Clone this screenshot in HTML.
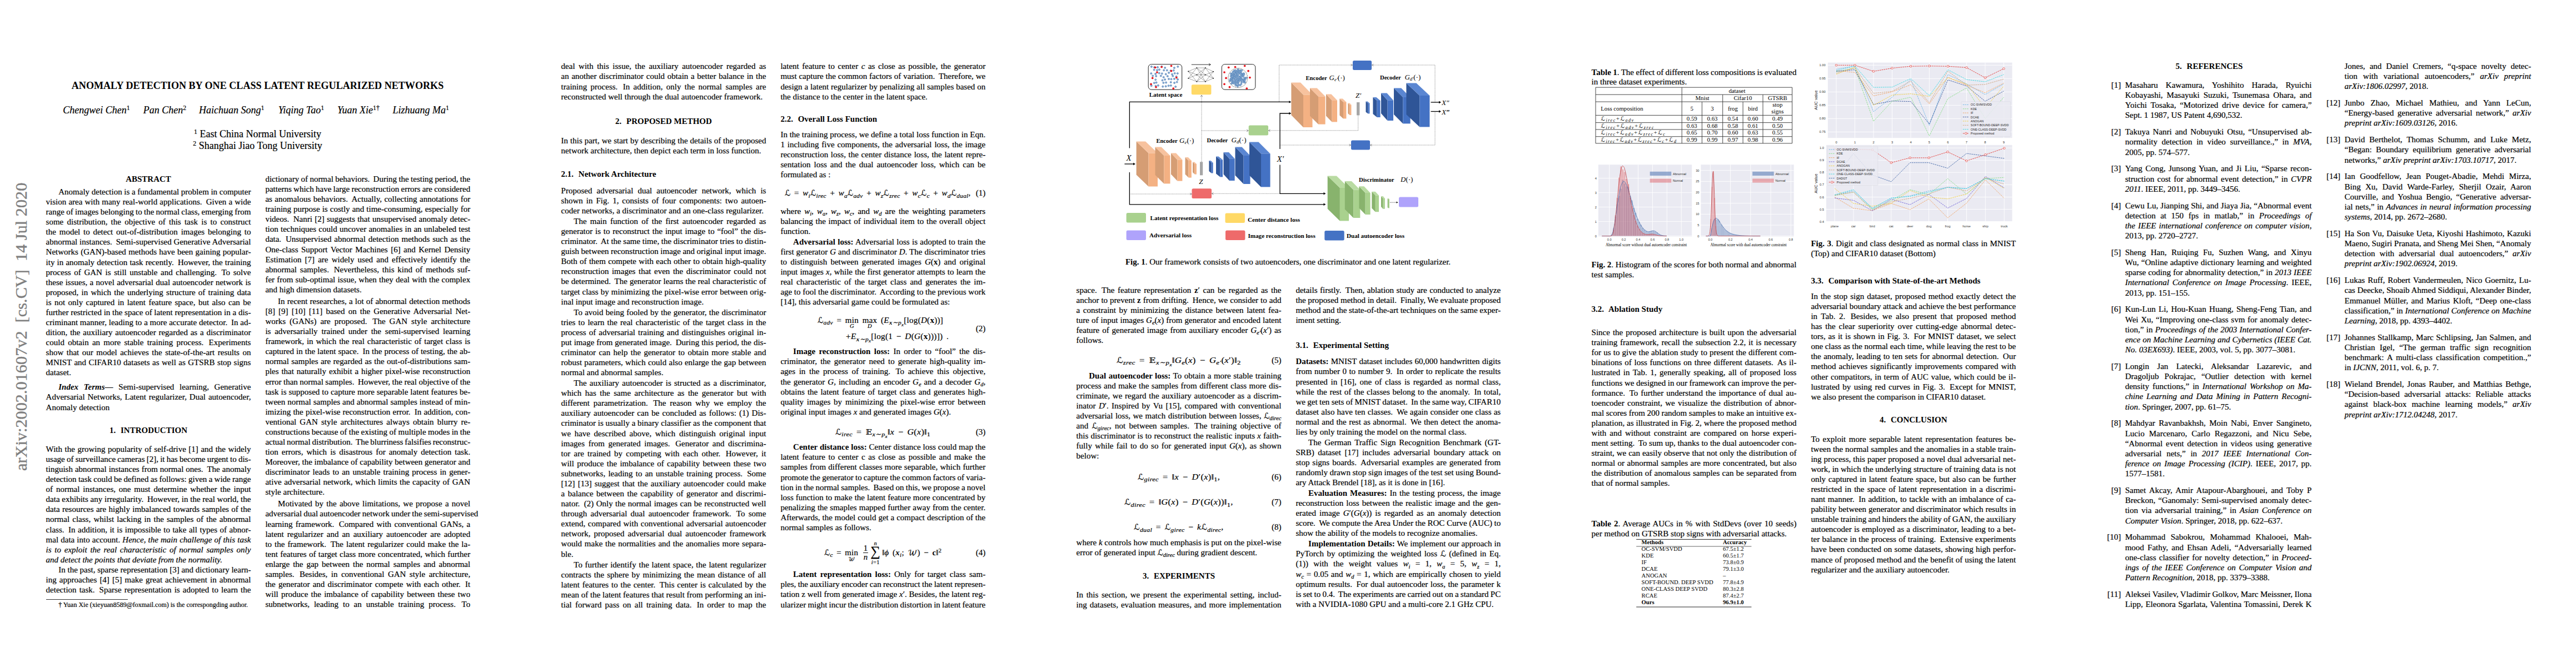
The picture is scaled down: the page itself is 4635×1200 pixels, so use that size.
<!DOCTYPE html>
<html><head><meta charset="utf-8"><title>Anomaly Detection by One Class Latent Regularized Networks</title><style>
*{margin:0;padding:0}
html,body{width:4635px;height:1200px;overflow:hidden;background:#fff}
body{position:relative;font-family:'Liberation Serif','Times New Roman',serif;color:#000;-webkit-text-stroke:0.2px #000}
.l{position:absolute;white-space:nowrap;font-size:15px;line-height:18.18px;height:18.18px}
.j{text-align:justify;text-align-last:justify;word-spacing:-1.5px}
.c{text-align:center}
.r{text-align:right}
.h{font-weight:bold}
b,.h,.tt{-webkit-text-stroke:0}
.cal{font-family:'DejaVu Sans',sans-serif;font-style:normal;font-size:95%}
.calw,.bb{font-family:'DejaVu Math TeX Gyre','DejaVu Sans',serif;font-style:normal;font-size:92%}
sub,sup{font-size:70%;line-height:0;position:relative;vertical-align:baseline}
sub{top:0.3em;font-style:italic}
sup{top:-0.45em}
sub.n,sub b{font-style:normal}
.eq i{font-style:italic}
.eq>span{word-spacing:2.5px;letter-spacing:0.3px}
.eq sub{font-size:76%}
.mm{display:inline-block;position:relative}
.mm .ul{position:absolute;left:0;right:0;text-align:center;top:15.5px;font-size:10.5px;font-style:italic;line-height:1}
.frac{display:inline-block;vertical-align:middle;text-align:center;line-height:1;margin:0 2px;position:relative;top:-1px}
.frac>span{display:block;font-size:100%}
.frac>span:first-child{border-bottom:1px solid #111;padding:0 1px}
.sum{display:inline-block;position:relative;font-size:25px;line-height:18px;vertical-align:-1px;margin:0 3px 0 2px}
.sum .ut,.sum .ul{position:absolute;left:-6px;right:-6px;text-align:center;font-size:10.5px;line-height:1;white-space:nowrap}
.sum .ut{top:-10.5px}
.sum .ul{top:23.5px}
.fn{position:absolute;white-space:nowrap;font-size:12px;line-height:14px}
.abs{position:absolute;white-space:nowrap}
</style></head><body>
<div class="abs" style="left:0;width:927px;top:145.45px;text-align:center;-webkit-text-stroke:0;font:bold 18.1px/18.18px 'Liberation Serif',serif">ANOMALY DETECTION BY ONE CLASS LATENT REGULARIZED NETWORKS</div>
<div class="abs" style="left:113.3px;top:188.98px;font:italic 18px/18.18px 'Liberation Serif',serif">Chengwei Chen<sup style="font-style:normal;font-size:66%;top:-0.5em">1</sup></div>
<div class="abs" style="left:257.7px;top:188.98px;font:italic 18px/18.18px 'Liberation Serif',serif">Pan Chen<sup style="font-style:normal;font-size:66%;top:-0.5em">2</sup></div>
<div class="abs" style="left:358.0px;top:188.98px;font:italic 18px/18.18px 'Liberation Serif',serif">Haichuan Song<sup style="font-style:normal;font-size:66%;top:-0.5em">1</sup></div>
<div class="abs" style="left:500.7px;top:188.98px;font:italic 18px/18.18px 'Liberation Serif',serif">Yiqing Tao<sup style="font-style:normal;font-size:66%;top:-0.5em">1</sup></div>
<div class="abs" style="left:607.1px;top:188.98px;font:italic 18px/18.18px 'Liberation Serif',serif">Yuan Xie<sup style="font-style:normal;font-size:66%;top:-0.5em">1&#8224;</sup></div>
<div class="abs" style="left:706.5px;top:188.98px;font:italic 18px/18.18px 'Liberation Serif',serif">Lizhuang Ma<sup style="font-style:normal;font-size:66%;top:-0.5em">1</sup></div>
<div class="abs" style="left:0;width:927px;top:232.19px;text-align:center;font:18px/18.18px 'Liberation Serif',serif"><sup style="font-size:66%;top:-0.5em">1</sup> East China Normal University</div>
<div class="abs" style="left:0;width:927px;top:252.69px;text-align:center;font:18px/18.18px 'Liberation Serif',serif"><sup style="font-size:66%;top:-0.5em">2</sup> Shanghai Jiao Tong University</div>
<div class="abs" style="left:47.6px;top:847px;transform-origin:0 0;transform:rotate(-90deg);font:30.3px/1 'Liberation Serif',serif;color:#7f7f7f;-webkit-text-stroke:0.4px #7f7f7f;margin-top:0"><span style="position:relative;top:-24.6px">arXiv:2002.01607v2&nbsp; [cs.CV]&nbsp; 14 Jul 2020</span></div>
<div class="abs" style="left:82.6px;top:1078px;width:147.5px;height:0;border-top:0.7px solid #333"></div>
<div class="fn" style="left:105.2px;top:1080.95px">&#8224; Yuan Xie (xieyuan8589@foxmail.com) is the correspongding author.</div>
<div class="l h c" style="left:82.6px;top:313.00px;width:368.8px;">ABSTRACT</div>
<div class="l j" style="left:82.6px;top:336.00px;width:368.8px;text-indent:22.7px;">Anomaly detection is a fundamental problem in computer</div>
<div class="l j" style="left:82.6px;top:354.08px;width:368.8px;">vision area with many real-world applications.&#8201; Given a wide</div>
<div class="l j" style="left:82.6px;top:372.16px;width:368.8px;">range of images belonging to the normal class, emerging from</div>
<div class="l j" style="left:82.6px;top:390.24px;width:368.8px;">some distribution, the objective of this task is to construct</div>
<div class="l j" style="left:82.6px;top:408.32px;width:368.8px;">the model to detect out-of-distribution images belonging to</div>
<div class="l j" style="left:82.6px;top:426.40px;width:368.8px;">abnormal instances.&#8201; Semi-supervised Generative Adversarial</div>
<div class="l j" style="left:82.6px;top:444.48px;width:368.8px;">Networks (GAN)-based methods have been gaining popular-</div>
<div class="l j" style="left:82.6px;top:462.56px;width:368.8px;">ity in anomaly detection task recently.&#8201; However, the training</div>
<div class="l j" style="left:82.6px;top:480.64px;width:368.8px;">process of GAN is still unstable and challenging.&#8201; To solve</div>
<div class="l j" style="left:82.6px;top:498.72px;width:368.8px;">these issues, a novel adversarial dual autoencoder network is</div>
<div class="l j" style="left:82.6px;top:516.80px;width:368.8px;">proposed, in which the underlying structure of training data</div>
<div class="l j" style="left:82.6px;top:534.88px;width:368.8px;">is not only captured in latent feature space, but also can be</div>
<div class="l j" style="left:82.6px;top:552.96px;width:368.8px;">further restricted in the space of latent representation in a dis-</div>
<div class="l j" style="left:82.6px;top:571.04px;width:368.8px;">criminant manner, leading to a more accurate detector.&#8201; In ad-</div>
<div class="l j" style="left:82.6px;top:589.12px;width:368.8px;">dition, the auxiliary autoencoder regarded as a discriminator</div>
<div class="l j" style="left:82.6px;top:607.20px;width:368.8px;">could obtain an more stable training process.&#8201; Experiments</div>
<div class="l j" style="left:82.6px;top:625.28px;width:368.8px;">show that our model achieves the state-of-the-art results on</div>
<div class="l j" style="left:82.6px;top:643.36px;width:368.8px;">MNIST and CIFAR10 datasets as well as GTSRB stop signs</div>
<div class="l" style="left:82.6px;top:661.44px;width:368.8px;">dataset.</div>
<div class="l j" style="left:82.6px;top:687.40px;width:368.8px;text-indent:22.7px;"><b><i>Index Terms</i>&#8212;</b> Semi-supervised learning, Generative</div>
<div class="l j" style="left:82.6px;top:705.48px;width:368.8px;">Adversarial Networks, Latent regularizer, Dual autoencoder,</div>
<div class="l" style="left:82.6px;top:723.56px;width:368.8px;">Anomaly detection</div>
<div class="l h c" style="left:82.6px;top:765.10px;width:368.8px;">1.&nbsp;&#8202; INTRODUCTION</div>
<div class="l j" style="left:82.6px;top:798.90px;width:368.8px;">With the growing popularity of self-drive [1] and the widely</div>
<div class="l j" style="left:82.6px;top:816.98px;width:368.8px;">usage of surveillance cameras [2], it has become urgent to dis-</div>
<div class="l j" style="left:82.6px;top:835.06px;width:368.8px;">tinguish abnormal instances from normal ones.&#8201; The anomaly</div>
<div class="l j" style="left:82.6px;top:853.14px;width:368.8px;">detection task could be defined as follows: given a wide range</div>
<div class="l j" style="left:82.6px;top:871.22px;width:368.8px;">of normal instances, one must determine whether the input</div>
<div class="l j" style="left:82.6px;top:889.30px;width:368.8px;">data exhibits any irregularity.&#8201; However, in the real world, the</div>
<div class="l j" style="left:82.6px;top:907.38px;width:368.8px;">data resources are highly imbalanced towards samples of the</div>
<div class="l j" style="left:82.6px;top:925.46px;width:368.8px;">normal class, whilst lacking in the samples of the abnormal</div>
<div class="l j" style="left:82.6px;top:943.54px;width:368.8px;">class.&#8201; In addition, it is impossible to take all types of abnor-</div>
<div class="l j" style="left:82.6px;top:961.62px;width:368.8px;">mal data into account. <i>Hence, the main challenge of this task</i></div>
<div class="l j" style="left:82.6px;top:979.70px;width:368.8px;"><i>is to exploit the real characteristic of normal samples only</i></div>
<div class="l" style="left:82.6px;top:997.78px;width:368.8px;"><i>and detect the points that deviate from the normality.</i></div>
<div class="l j" style="left:82.6px;top:1015.86px;width:368.8px;text-indent:22.7px;">In the past, sparse representation [3] and dictionary learn-</div>
<div class="l j" style="left:82.6px;top:1033.94px;width:368.8px;">ing approaches [4] [5] make great achievement in abnormal</div>
<div class="l j" style="left:82.6px;top:1052.02px;width:368.8px;">detection task.&#8201; Sparse representation is adopted to learn the</div>
<div class="l j" style="left:477.4px;top:313.00px;width:368.8px;">dictionary of normal behaviors.&#8201; During the testing period, the</div>
<div class="l j" style="left:477.4px;top:331.08px;width:368.8px;">patterns which have large reconstruction errors are considered</div>
<div class="l j" style="left:477.4px;top:349.16px;width:368.8px;">as anomalous behaviors.&#8201; Actually, collecting annotations for</div>
<div class="l j" style="left:477.4px;top:367.24px;width:368.8px;">training purpose is costly and time-consuming, especially for</div>
<div class="l j" style="left:477.4px;top:385.32px;width:368.8px;">videos.&#8201; Nanri [2] suggests that unsupervised anomaly detec-</div>
<div class="l j" style="left:477.4px;top:403.40px;width:368.8px;">tion techniques could uncover anomalies in an unlabeled test</div>
<div class="l j" style="left:477.4px;top:421.48px;width:368.8px;">data.&#8201; Unsupervised abnormal detection methods such as the</div>
<div class="l j" style="left:477.4px;top:439.56px;width:368.8px;">One-class Support Vector Machines [6] and Kernel Density</div>
<div class="l j" style="left:477.4px;top:457.64px;width:368.8px;">Estimation [7] are widely used and effectively identify the</div>
<div class="l j" style="left:477.4px;top:475.72px;width:368.8px;">abnormal samples.&#8201; Nevertheless, this kind of methods suf-</div>
<div class="l j" style="left:477.4px;top:493.80px;width:368.8px;">fer from sub-optimal issue, when they deal with the complex</div>
<div class="l" style="left:477.4px;top:511.88px;width:368.8px;">and high dimension datasets.</div>
<div class="l j" style="left:477.4px;top:532.86px;width:368.8px;text-indent:22.7px;">In recent researches, a lot of abnormal detection methods</div>
<div class="l j" style="left:477.4px;top:550.94px;width:368.8px;">[8] [9] [10] [11] based on the Generative Adversarial Net-</div>
<div class="l j" style="left:477.4px;top:569.02px;width:368.8px;">works (GANs) are proposed.&#8201; The GAN style architecture</div>
<div class="l j" style="left:477.4px;top:587.10px;width:368.8px;">is adversarially trained under the semi-supervised learning</div>
<div class="l j" style="left:477.4px;top:605.18px;width:368.8px;">framework, in which the real characteristic of target class is</div>
<div class="l j" style="left:477.4px;top:623.26px;width:368.8px;">captured in the latent space.&#8201; In the process of testing, the ab-</div>
<div class="l j" style="left:477.4px;top:641.34px;width:368.8px;">normal samples are regarded as the out-of-distributions sam-</div>
<div class="l j" style="left:477.4px;top:659.42px;width:368.8px;">ples that naturally exhibit a higher pixel-wise reconstruction</div>
<div class="l j" style="left:477.4px;top:677.50px;width:368.8px;">error than normal samples.&#8201; However, the real objective of the</div>
<div class="l j" style="left:477.4px;top:695.58px;width:368.8px;">task is supposed to capture more separable latent features be-</div>
<div class="l j" style="left:477.4px;top:713.66px;width:368.8px;">tween normal samples and abnormal samples instead of min-</div>
<div class="l j" style="left:477.4px;top:731.74px;width:368.8px;">imizing the pixel-wise reconstruction error.&#8201; In addition, con-</div>
<div class="l j" style="left:477.4px;top:749.82px;width:368.8px;">ventional GAN style architectures always obtain blurry re-</div>
<div class="l j" style="left:477.4px;top:767.90px;width:368.8px;">constructions because of the existing of multiple modes in the</div>
<div class="l j" style="left:477.4px;top:785.98px;width:368.8px;">actual normal distribution.&#8201; The blurriness falsifies reconstruc-</div>
<div class="l j" style="left:477.4px;top:804.06px;width:368.8px;">tion errors, which is disastrous for anomaly detection task.</div>
<div class="l j" style="left:477.4px;top:822.14px;width:368.8px;">Moreover, the imbalance of capability between generator and</div>
<div class="l j" style="left:477.4px;top:840.22px;width:368.8px;">discriminator leads to an unstable training process in gener-</div>
<div class="l j" style="left:477.4px;top:858.30px;width:368.8px;">ative adversarial network, which limits the capacity of GAN</div>
<div class="l" style="left:477.4px;top:876.38px;width:368.8px;">style architecture.</div>
<div class="l j" style="left:477.4px;top:897.36px;width:368.8px;text-indent:22.7px;">Motivated by the above limitations, we propose a novel</div>
<div class="l" style="left:477.4px;top:915.44px;width:368.8px;word-spacing:-0.6px;">adversarial dual autoencoder network under the semi-supervised</div>
<div class="l j" style="left:477.4px;top:933.52px;width:368.8px;">learning framework.&#8201; Compared with conventional GANs, a</div>
<div class="l j" style="left:477.4px;top:951.60px;width:368.8px;">latent regularizer and an auxiliary autoencoder are adopted</div>
<div class="l j" style="left:477.4px;top:969.68px;width:368.8px;">to the framework.&#8201; The latent regularizer could make the la-</div>
<div class="l j" style="left:477.4px;top:987.76px;width:368.8px;">tent features of target class more concentrated, which further</div>
<div class="l j" style="left:477.4px;top:1005.84px;width:368.8px;">enlarge the gap between the normal samples and abnormal</div>
<div class="l j" style="left:477.4px;top:1023.92px;width:368.8px;">samples.&#8201; Besides, in conventional GAN style architecture,</div>
<div class="l j" style="left:477.4px;top:1042.00px;width:368.8px;">the generator and discriminator compete with each other.&#8201; It</div>
<div class="l j" style="left:477.4px;top:1060.08px;width:368.8px;">will produce the imbalance of capability between these two</div>
<div class="l j" style="left:477.4px;top:1078.16px;width:368.8px;">subnetworks, leading to an unstable training process.&#8201; To</div>
<div class="l j" style="left:1009.6px;top:110.40px;width:368.8px;">deal with this issue, the auxiliary autoencoder regarded as</div>
<div class="l j" style="left:1009.6px;top:128.48px;width:368.8px;">an another discriminator could obtain a better balance in the</div>
<div class="l j" style="left:1009.6px;top:146.56px;width:368.8px;">training process.&#8201; In addition, only the normal samples are</div>
<div class="l" style="left:1009.6px;top:164.64px;width:368.8px;">reconstructed well through the dual autoencoder framework.</div>
<div class="l h c" style="left:1009.6px;top:208.70px;width:368.8px;">2.&nbsp;&#8202; PROPOSED METHOD</div>
<div class="l j" style="left:1009.6px;top:244.20px;width:368.8px;">In this part, we start by describing the details of the proposed</div>
<div class="l" style="left:1009.6px;top:262.28px;width:368.8px;">network architecture, then depict each term in loss function.</div>
<div class="l h" style="left:1009.6px;top:304.10px;width:368.8px;">2.1.&nbsp;&#8202; Network Architecture</div>
<div class="l j" style="left:1009.6px;top:333.80px;width:368.8px;">Proposed adversarial dual autoencoder network, which is</div>
<div class="l j" style="left:1009.6px;top:351.88px;width:368.8px;">shown in Fig. 1, consists of four components: two autoen-</div>
<div class="l" style="left:1009.6px;top:369.96px;width:368.8px;">coder networks, a discriminator and an one-class regularizer.</div>
<div class="l j" style="left:1009.6px;top:388.99px;width:368.8px;text-indent:22.7px;">The main function of the first autoencoder regarded as</div>
<div class="l j" style="left:1009.6px;top:407.07px;width:368.8px;">generator is to reconstruct the input image to &#8220;fool&#8221; the dis-</div>
<div class="l j" style="left:1009.6px;top:425.15px;width:368.8px;">criminator.&#8201; At the same time, the discriminator tries to distin-</div>
<div class="l j" style="left:1009.6px;top:443.23px;width:368.8px;">guish between reconstruction image and original input image.</div>
<div class="l j" style="left:1009.6px;top:461.31px;width:368.8px;">Both of them compete with each other to obtain high-quality</div>
<div class="l j" style="left:1009.6px;top:479.39px;width:368.8px;">reconstruction images that even the discriminator could not</div>
<div class="l j" style="left:1009.6px;top:497.47px;width:368.8px;">be determined.&#8201; The generator learns the real characteristic of</div>
<div class="l j" style="left:1009.6px;top:515.55px;width:368.8px;">target class by minimizing the pixel-wise error between orig-</div>
<div class="l" style="left:1009.6px;top:533.63px;width:368.8px;">inal input image and reconstruction image.</div>
<div class="l j" style="left:1009.6px;top:552.66px;width:368.8px;text-indent:22.7px;">To avoid being fooled by the generator, the discriminator</div>
<div class="l j" style="left:1009.6px;top:570.74px;width:368.8px;">tries to learn the real characteristic of the target class in the</div>
<div class="l j" style="left:1009.6px;top:588.82px;width:368.8px;">process of adversarial training and distinguishes original in-</div>
<div class="l j" style="left:1009.6px;top:606.90px;width:368.8px;">put image from generated image.&#8201; During this period, the dis-</div>
<div class="l j" style="left:1009.6px;top:624.98px;width:368.8px;">criminator can help the generator to obtain more stable and</div>
<div class="l j" style="left:1009.6px;top:643.06px;width:368.8px;">robust parameters, which could also enlarge the gap between</div>
<div class="l" style="left:1009.6px;top:661.14px;width:368.8px;">normal and abnormal samples.</div>
<div class="l j" style="left:1009.6px;top:680.17px;width:368.8px;text-indent:22.7px;">The auxiliary autoencoder is structed as a discriminator,</div>
<div class="l j" style="left:1009.6px;top:698.25px;width:368.8px;">which has the same architecture as the generator but with</div>
<div class="l j" style="left:1009.6px;top:716.33px;width:368.8px;">different parametrization.&#8201; The reason why we employ the</div>
<div class="l j" style="left:1009.6px;top:734.41px;width:368.8px;">auxiliary autoencoder can be concluded as follows: (1) Dis-</div>
<div class="l j" style="left:1009.6px;top:752.49px;width:368.8px;">criminator is usually a binary classifier as the component that</div>
<div class="l j" style="left:1009.6px;top:770.57px;width:368.8px;">we have described above, which distinguish original input</div>
<div class="l j" style="left:1009.6px;top:788.65px;width:368.8px;">images from generated images.&#8201; Generator and discrimina-</div>
<div class="l j" style="left:1009.6px;top:806.73px;width:368.8px;">tor are trained by competing with each other.&#8201; However, it</div>
<div class="l j" style="left:1009.6px;top:824.81px;width:368.8px;">will produce the imbalance of capability between these two</div>
<div class="l j" style="left:1009.6px;top:842.89px;width:368.8px;">subnetworks, leading to an unstable training process.&#8201; Some</div>
<div class="l j" style="left:1009.6px;top:860.97px;width:368.8px;">[12] [13] suggest that the auxiliary autoencoder could make</div>
<div class="l j" style="left:1009.6px;top:879.05px;width:368.8px;">a balance between the capability of generator and discrimi-</div>
<div class="l j" style="left:1009.6px;top:897.13px;width:368.8px;">nator.&#8201; (2) Only the normal images can be reconstructed well</div>
<div class="l j" style="left:1009.6px;top:915.21px;width:368.8px;">through adversarial dual autoencoder framework.&#8201; To some</div>
<div class="l j" style="left:1009.6px;top:933.29px;width:368.8px;">extend, compared with conventional adversarial autoencoder</div>
<div class="l j" style="left:1009.6px;top:951.37px;width:368.8px;">network, proposed adversarial dual autoencoder framework</div>
<div class="l j" style="left:1009.6px;top:969.45px;width:368.8px;">would make the normalities and the anomalies more separa-</div>
<div class="l" style="left:1009.6px;top:987.53px;width:368.8px;">ble.</div>
<div class="l j" style="left:1009.6px;top:1006.56px;width:368.8px;text-indent:22.7px;">To further identify the latent space, the latent regularizer</div>
<div class="l j" style="left:1009.6px;top:1024.64px;width:368.8px;">contracts the sphere by minimizing the mean distance of all</div>
<div class="l j" style="left:1009.6px;top:1042.72px;width:368.8px;">latent features to the center.&#8201; This center is calculated by the</div>
<div class="l j" style="left:1009.6px;top:1060.80px;width:368.8px;">mean of the latent features that result from performing an ini-</div>
<div class="l j" style="left:1009.6px;top:1078.88px;width:368.8px;">tial forward pass on all training data.&#8201; In order to map the</div>
<div class="l j" style="left:1404.4px;top:110.40px;width:368.8px;">latent feature to center <i class="m">c</i> as close as possible, the generator</div>
<div class="l j" style="left:1404.4px;top:128.48px;width:368.8px;">must capture the common factors of variation.&#8201; Therefore, we</div>
<div class="l j" style="left:1404.4px;top:146.56px;width:368.8px;">design a latent regularizer by penalizing all samples based on</div>
<div class="l" style="left:1404.4px;top:164.64px;width:368.8px;">the distance to the center in the latent space.</div>
<div class="l h" style="left:1404.4px;top:204.70px;width:368.8px;">2.2.&nbsp;&#8202; Overall Loss Function</div>
<div class="l j" style="left:1404.4px;top:233.10px;width:368.8px;">In the training process, we define a total loss function in Eqn.</div>
<div class="l j" style="left:1404.4px;top:251.18px;width:368.8px;">1 including five components, the adversarial loss, the image</div>
<div class="l j" style="left:1404.4px;top:269.26px;width:368.8px;">reconstruction loss, the center distance loss, the latent repre-</div>
<div class="l j" style="left:1404.4px;top:287.34px;width:368.8px;">sentation loss and the dual autoencoder loss, which can be</div>
<div class="l" style="left:1404.4px;top:305.42px;width:368.8px;">formulated as :</div>
<div class="l eq" style="left:1412.1px;top:338.20px"><span id="eq0" style="display:inline-block;transform-origin:0 50%;transform:scaleX(0.9944)"><span class="cal">&#8466;</span> = <i>w</i><sub>i</sub><span class="cal">&#8466;</span><sub>irec</sub> + <i>w</i><sub>a</sub><span class="cal">&#8466;</span><sub>adv</sub> + <i>w</i><sub>z</sub><span class="cal">&#8466;</span><sub>zrec</sub> + <i>w</i><sub>c</sub><span class="cal">&#8466;</span><sub>c</sub> + <i>w</i><sub>d</sub><span class="cal">&#8466;</span><sub>dual</sub>,</span></div>
<div class="l r" style="left:1404.4px;top:338.20px;width:368.8px;">(1)</div>
<div class="l j" style="left:1404.4px;top:371.00px;width:368.8px;">where <i>w</i><sub>i</sub>, <i>w</i><sub>a</sub>, <i>w</i><sub>z</sub>, <i>w</i><sub>c</sub>, and <i>w</i><sub>d</sub> are the weighting parameters</div>
<div class="l j" style="left:1404.4px;top:389.08px;width:368.8px;">balancing the impact of individual item to the overall object</div>
<div class="l" style="left:1404.4px;top:407.16px;width:368.8px;">function.</div>
<div class="l j" style="left:1404.4px;top:425.54px;width:368.8px;text-indent:22.7px;"><b>Adversarial loss:</b> Adversarial loss is adopted to train the</div>
<div class="l j" style="left:1404.4px;top:443.62px;width:368.8px;">first generator <i>G</i> and discriminator <i>D</i>. The discriminator tries</div>
<div class="l j" style="left:1404.4px;top:461.70px;width:368.8px;">to distinguish between generated images <i>G</i>(<b>x</b>) and original</div>
<div class="l j" style="left:1404.4px;top:479.78px;width:368.8px;">input images <i>x</i>, while the first generator attempts to learn the</div>
<div class="l j" style="left:1404.4px;top:497.86px;width:368.8px;">real characteristic of the target class and generates the im-</div>
<div class="l j" style="left:1404.4px;top:515.94px;width:368.8px;">age to fool the discriminator.&#8201; According to the previous work</div>
<div class="l" style="left:1404.4px;top:534.02px;width:368.8px;">[14], this adversarial game could be formulated as:</div>
<div class="l eq" style="left:1471.2px;top:566.90px"><span id="eq1" style="display:inline-block;transform-origin:0 50%;transform:scaleX(1.0006)"><span class="cal">&#8466;</span><sub>adv</sub> = <span class="mm">min<span class="ul">G</span></span> <span class="mm">max<span class="ul">D</span></span> (<i>E</i><sub><b><i>x</i></b>&#8764;<i>p</i><sub>x</sub></sub>[log(<i>D</i>(<b>x</b>))]</span></div>
<div class="l eq" style="left:1522.1px;top:596.10px"><span id="eq2" style="display:inline-block;transform-origin:0 50%;transform:scaleX(1.0126)">+<i>E</i><sub><b><i>x</i></b>&#8764;<i>p</i><sub>x</sub></sub>[log(1 &#8722; <i>D</i>(<i>G</i>(<b>x</b>)))]) .</span></div>
<div class="l r" style="left:1404.4px;top:581.80px;width:368.8px;">(2)</div>
<div class="l j" style="left:1404.4px;top:623.30px;width:368.8px;text-indent:22.7px;"><b>Image reconstruction loss:</b> In order to &#8220;fool&#8221; the dis-</div>
<div class="l j" style="left:1404.4px;top:641.38px;width:368.8px;">criminator, the generator need to generate high-quality im-</div>
<div class="l j" style="left:1404.4px;top:659.46px;width:368.8px;">ages in the process of training.&#8201; To achieve this objective,</div>
<div class="l j" style="left:1404.4px;top:677.54px;width:368.8px;">the generator <i>G</i>, including an encoder <i>G</i><sub>e</sub> and a decoder <i>G</i><sub>d</sub>,</div>
<div class="l j" style="left:1404.4px;top:695.62px;width:368.8px;">obtains the latent feature of target class and generates high-</div>
<div class="l j" style="left:1404.4px;top:713.70px;width:368.8px;">quality images by minimizing the pixel-wise error between</div>
<div class="l" style="left:1404.4px;top:731.78px;width:368.8px;">original input images <i>x</i> and generated images <i>G</i>(<i>x</i>).</div>
<div class="l eq" style="left:1502.7px;top:767.90px"><span id="eq3" style="display:inline-block;transform-origin:0 50%;transform:scaleX(1.0631)"><span class="cal">&#8466;</span><sub>irec</sub> = <span class="bb">&#120124;</span><sub><i>x</i>&#8764;<i>p</i><sub>x</sub></sub>&#8214;<i>x</i> &#8722; <i>G</i>(<i>x</i>)&#8214;<sub class="n">1</sub></span></div>
<div class="l r" style="left:1404.4px;top:767.90px;width:368.8px;">(3)</div>
<div class="l j" style="left:1404.4px;top:795.30px;width:368.8px;text-indent:22.7px;"><b>Center distance loss:</b> Center distance loss could map the</div>
<div class="l j" style="left:1404.4px;top:813.38px;width:368.8px;">latent feature to center c as close as possible and make the</div>
<div class="l j" style="left:1404.4px;top:831.46px;width:368.8px;">samples from different classes more separable, which further</div>
<div class="l j" style="left:1404.4px;top:849.54px;width:368.8px;">promote the generator to capture the common factors of varia-</div>
<div class="l j" style="left:1404.4px;top:867.62px;width:368.8px;">tion in the normal samples.&#8201; Based on this, we propose a novel</div>
<div class="l j" style="left:1404.4px;top:885.70px;width:368.8px;">loss function to make the latent feature more concentrated by</div>
<div class="l j" style="left:1404.4px;top:903.78px;width:368.8px;">penalizing the smaples mapped further away from the center.</div>
<div class="l j" style="left:1404.4px;top:921.86px;width:368.8px;">Afterwards, the model could get a compact description of the</div>
<div class="l" style="left:1404.4px;top:939.94px;width:368.8px;">normal samples as follows.</div>
<div class="l eq" style="left:1483.1px;top:980.10px"><span id="eq4" style="display:inline-block;transform-origin:0 50%;transform:scaleX(0.9866)"><span class="cal">&#8466;</span><sub>c</sub> = <span class="mm">min<span class="ul"><span class="calw">&#119986;</span></span></span> <span class="frac"><span>1</span><span><i>n</i></span></span><span class="sum">&#8721;<span class="ut"><i>n</i></span><span class="ul"><i>i</i>=1</span></span>&#8214;<i>&#981;</i> (<b><i>x</i></b><sub>i</sub>; <span class="calw">&#119986;</span>) &#8722; <b>c</b>&#8214;<sup>2</sup></span></div>
<div class="l r" style="left:1404.4px;top:985.00px;width:368.8px;">(4)</div>
<div class="l j" style="left:1404.4px;top:1024.30px;width:368.8px;text-indent:22.7px;"><b>Latent representation loss:</b> Only for target class sam-</div>
<div class="l j" style="left:1404.4px;top:1042.38px;width:368.8px;">ples, the auxiliary encoder can reconstruct the latent represen-</div>
<div class="l j" style="left:1404.4px;top:1060.46px;width:368.8px;">tation z well from generated image <i>x</i>&#8242;. Besides, the latent reg-</div>
<div class="l j" style="left:1404.4px;top:1078.54px;width:368.8px;">ularizer might incur the distribution distortion in latent feature</div>
<div class="l j" style="left:1936.6px;top:512.60px;width:368.8px;">space.&#8201; The feature representation <b>z</b>&#8242; can be regarded as the</div>
<div class="l j" style="left:1936.6px;top:530.68px;width:368.8px;">anchor to prevent <b>z</b> from drifting.&#8201; Hence, we consider to add</div>
<div class="l j" style="left:1936.6px;top:548.76px;width:368.8px;">a constraint by minimizing the distance between latent fea-</div>
<div class="l j" style="left:1936.6px;top:566.84px;width:368.8px;">ture of input images <i>G</i><sub>e</sub>(<i>x</i>) from generator and encoded latent</div>
<div class="l j" style="left:1936.6px;top:584.92px;width:368.8px;">feature of generated image from auxiliary encoder <i>G</i><sub>e&#8242;</sub>(<i>x</i>&#8242;) as</div>
<div class="l" style="left:1936.6px;top:603.00px;width:368.8px;">follows.</div>
<div class="l eq" style="left:2009.3px;top:638.80px"><span id="eq5" style="display:inline-block;transform-origin:0 50%;transform:scaleX(1.1118)"><span class="cal">&#8466;</span><sub>zrec</sub> = <span class="bb">&#120124;</span><sub><i>x</i>&#8764;<i>p</i><sub>x</sub></sub>&#8214;<i>G</i><sub>e</sub>(<i>x</i>) &#8722; <i>G</i><sub>e&#8242;</sub>(<i>x</i>&#8242;)&#8214;<sub class="n">2</sub></span></div>
<div class="l r" style="left:1936.6px;top:638.80px;width:368.8px;">(5)</div>
<div class="l j" style="left:1936.6px;top:666.70px;width:368.8px;text-indent:22.7px;"><b>Dual autoencoder loss:</b> To obtain a more stable training</div>
<div class="l j" style="left:1936.6px;top:684.78px;width:368.8px;">process and make the samples from different class more dis-</div>
<div class="l j" style="left:1936.6px;top:702.86px;width:368.8px;">criminate, we regard the auxiliary autoencoder as a discrim-</div>
<div class="l j" style="left:1936.6px;top:720.94px;width:368.8px;">inator <i>D</i>&#8242;. Inspired by Vu [15], compared with conventional</div>
<div class="l j" style="left:1936.6px;top:739.02px;width:368.8px;">adversarial loss, we match distribution between losses, <span class="cal">&#8466;</span><sub>direc</sub></div>
<div class="l j" style="left:1936.6px;top:757.10px;width:368.8px;">and <span class="cal">&#8466;</span><sub>girec</sub>, not between samples.&#8201; The training objective of</div>
<div class="l j" style="left:1936.6px;top:775.18px;width:368.8px;">this discriminator is to reconstruct the realistic inputs <i>x</i> faith-</div>
<div class="l j" style="left:1936.6px;top:793.26px;width:368.8px;">fully while fail to do so for generated input <i>G</i>(<i>x</i>), as shown</div>
<div class="l" style="left:1936.6px;top:811.34px;width:368.8px;">below:</div>
<div class="l eq" style="left:2047.1px;top:848.60px"><span id="eq6" style="display:inline-block;transform-origin:0 50%;transform:scaleX(1.0805)"><span class="cal">&#8466;</span><sub>girec</sub> = &#8214;<i>x</i> &#8722; <i>D</i>&#8242;(<i>x</i>)&#8214;<sub class="n">1</sub>,</span></div>
<div class="l r" style="left:1936.6px;top:848.60px;width:368.8px;">(6)</div>
<div class="l eq" style="left:2023.4px;top:894.30px"><span id="eq7" style="display:inline-block;transform-origin:0 50%;transform:scaleX(1.0830)"><span class="cal">&#8466;</span><sub>direc</sub> = &#8214;<i>G</i>(<i>x</i>) &#8722; <i>D</i>&#8242;(<i>G</i>(<i>x</i>))&#8214;<sub class="n">1</sub>,</span></div>
<div class="l r" style="left:1936.6px;top:894.30px;width:368.8px;">(7)</div>
<div class="l eq" style="left:2040.2px;top:939.20px"><span id="eq8" style="display:inline-block;transform-origin:0 50%;transform:scaleX(1.0291)"><span class="cal">&#8466;</span><sub>dual</sub> = <span class="cal">&#8466;</span><sub>girec</sub> &#8722; <i>k</i><span class="cal">&#8466;</span><sub>direc</sub>,</span></div>
<div class="l r" style="left:1936.6px;top:939.20px;width:368.8px;">(8)</div>
<div class="l j" style="left:1936.6px;top:966.70px;width:368.8px;">where <i>k</i> controls how much emphasis is put on the pixel-wise</div>
<div class="l" style="left:1936.6px;top:984.78px;width:368.8px;">error of generated input <span class="cal">&#8466;</span><sub>direc</sub> during gradient descent.</div>
<div class="l h c" style="left:1936.6px;top:1026.90px;width:368.8px;">3.&nbsp;&#8202; EXPERIMENTS</div>
<div class="l j" style="left:1936.6px;top:1061.10px;width:368.8px;">In this section, we present the experimental setting, includ-</div>
<div class="l j" style="left:1936.6px;top:1079.18px;width:368.8px;">ing datasets, evaluation measures, and more implementation</div>
<div class="l j" style="left:2331.4px;top:512.60px;width:368.8px;">details firstly.&#8201; Then, ablation study are conducted to analyze</div>
<div class="l j" style="left:2331.4px;top:530.68px;width:368.8px;">the proposed method in detail.&#8201; Finally, We evaluate proposed</div>
<div class="l j" style="left:2331.4px;top:548.76px;width:368.8px;">method and the state-of-the-art techniques on the same exper-</div>
<div class="l" style="left:2331.4px;top:566.84px;width:368.8px;">iment setting.</div>
<div class="l h" style="left:2331.4px;top:611.80px;width:368.8px;">3.1.&nbsp;&#8202; Experimental Setting</div>
<div class="l j" style="left:2331.4px;top:641.40px;width:368.8px;"><b>Datasets:</b> MNIST dataset includes 60,000 handwritten digits</div>
<div class="l j" style="left:2331.4px;top:659.48px;width:368.8px;">from number 0 to number 9.&#8201; In order to replicate the results</div>
<div class="l j" style="left:2331.4px;top:677.56px;width:368.8px;">presented in [16], one of class is regarded as normal class,</div>
<div class="l j" style="left:2331.4px;top:695.64px;width:368.8px;">while the rest of the classes belong to the anomaly.&#8201; In total,</div>
<div class="l j" style="left:2331.4px;top:713.72px;width:368.8px;">we get ten sets of MNIST dataset.&#8201; In the same way, CIFAR10</div>
<div class="l j" style="left:2331.4px;top:731.80px;width:368.8px;">dataset also have ten classes.&#8201; We again consider one class as</div>
<div class="l j" style="left:2331.4px;top:749.88px;width:368.8px;">normal and the rest as abnormal.&#8201; We then detect the anoma-</div>
<div class="l" style="left:2331.4px;top:767.96px;width:368.8px;">lies by only training the model on the normal class.</div>
<div class="l j" style="left:2331.4px;top:786.87px;width:368.8px;text-indent:22.7px;">The German Traffic Sign Recognition Benchmark (GT-</div>
<div class="l j" style="left:2331.4px;top:804.95px;width:368.8px;">SRB) dataset [17] includes adversarial boundary attack on</div>
<div class="l j" style="left:2331.4px;top:823.03px;width:368.8px;">stop signs boards.&#8201; Adversarial examples are generated from</div>
<div class="l j" style="left:2331.4px;top:841.11px;width:368.8px;">randomly drawn stop sign images of the test set using Bound-</div>
<div class="l" style="left:2331.4px;top:859.19px;width:368.8px;">ary Attack Brendel [18], as it is done in [16].</div>
<div class="l j" style="left:2331.4px;top:878.10px;width:368.8px;text-indent:22.7px;"><b>Evaluation Measures:</b> In the testing process, the image</div>
<div class="l j" style="left:2331.4px;top:896.18px;width:368.8px;">reconstruction loss between the realistic image and the gen-</div>
<div class="l j" style="left:2331.4px;top:914.26px;width:368.8px;">erated image <i>G</i>&#8242;(<i>G</i>(<i>x</i>)) is regarded as an anomaly detection</div>
<div class="l j" style="left:2331.4px;top:932.34px;width:368.8px;">score.&#8201; We compute the Area Under the ROC Curve (AUC) to</div>
<div class="l" style="left:2331.4px;top:950.42px;width:368.8px;">show the ability of the models to recognize anomalies.</div>
<div class="l j" style="left:2331.4px;top:969.33px;width:368.8px;text-indent:22.7px;"><b>Implementation Details:</b> We implement our approach in</div>
<div class="l j" style="left:2331.4px;top:987.41px;width:368.8px;">PyTorch by optimizing the weighted loss <span class="cal">&#8466;</span> (defined in Eq.</div>
<div class="l j" style="left:2331.4px;top:1005.49px;width:368.8px;">(1)) with the weight values <i>w</i><sub>i</sub> = 1, <i>w</i><sub>a</sub> = 5, <i>w</i><sub>z</sub> = 1,</div>
<div class="l j" style="left:2331.4px;top:1023.57px;width:368.8px;"><i>w</i><sub>c</sub> = 0.05 and <i>w</i><sub>d</sub> = 1, which are empirically chosen to yield</div>
<div class="l j" style="left:2331.4px;top:1041.65px;width:368.8px;">optimum results.&#8201; For dual autoencoder loss, the parameter k</div>
<div class="l j" style="left:2331.4px;top:1059.73px;width:368.8px;">is set to 0.4.&#8201; The experiments are carried out on a standard PC</div>
<div class="l" style="left:2331.4px;top:1077.81px;width:368.8px;">with a NVIDIA-1080 GPU and a multi-core 2.1 GHz CPU.</div>
<div class="l j" style="left:2863.6px;top:120.90px;width:368.8px;"><b>Table 1</b>. The effect of different loss compositions is evaluated</div>
<div class="l" style="left:2863.6px;top:138.20px;width:368.8px;">in three dataset experiments.</div>
<div class="l h" style="left:2863.6px;top:547.40px;width:368.8px;">3.2.&nbsp;&#8202; Ablation Study</div>
<div class="l j" style="left:2863.6px;top:589.10px;width:368.8px;">Since the proposed architecture is built upon the adversarial</div>
<div class="l j" style="left:2863.6px;top:607.18px;width:368.8px;">training framework, recall the subsection 2.2, it is necessary</div>
<div class="l j" style="left:2863.6px;top:625.26px;width:368.8px;">for us to give the ablation study to present the different com-</div>
<div class="l j" style="left:2863.6px;top:643.34px;width:368.8px;">binations of loss functions on three different datasets.&#8201; As il-</div>
<div class="l j" style="left:2863.6px;top:661.42px;width:368.8px;">lustrated in Tab. 1, generally speaking, all of proposed loss</div>
<div class="l j" style="left:2863.6px;top:679.50px;width:368.8px;">functions we designed in our framework can improve the per-</div>
<div class="l j" style="left:2863.6px;top:697.58px;width:368.8px;">formance.&#8201; To further understand the importance of dual au-</div>
<div class="l j" style="left:2863.6px;top:715.66px;width:368.8px;">toencoder constraint, we visualize the distribution of abnor-</div>
<div class="l j" style="left:2863.6px;top:733.74px;width:368.8px;">mal scores from 200 random samples to make an intuitive ex-</div>
<div class="l j" style="left:2863.6px;top:751.82px;width:368.8px;">planation, as illustrated in Fig. 2, where the proposed method</div>
<div class="l j" style="left:2863.6px;top:769.90px;width:368.8px;">with and without constraint are compared on horse experi-</div>
<div class="l j" style="left:2863.6px;top:787.98px;width:368.8px;">ment setting.&#8201; To sum up, thanks to the dual autoencoder con-</div>
<div class="l j" style="left:2863.6px;top:806.06px;width:368.8px;">straint, we can easily observe that not only the distribution of</div>
<div class="l j" style="left:2863.6px;top:824.14px;width:368.8px;">normal or abnormal samples are more concentrated, but also</div>
<div class="l j" style="left:2863.6px;top:842.22px;width:368.8px;">the distribution of anomalous samples can be separated from</div>
<div class="l" style="left:2863.6px;top:860.30px;width:368.8px;">that of normal samples.</div>
<div class="l j" style="left:2863.6px;top:466.70px;width:368.8px;"><b>Fig. 2</b>. Histogram of the scores for both normal and abnormal</div>
<div class="l" style="left:2863.6px;top:484.78px;width:368.8px;">test samples.</div>
<div class="l j" style="left:2863.6px;top:933.40px;width:368.8px;"><b>Table 2</b>. Average AUCs in % with StdDevs (over 10 seeds)</div>
<div class="l" style="left:2863.6px;top:951.48px;width:368.8px;">per method on GTSRB stop signs with adversarial attacks.</div>
<div class="l j" style="left:3258.4px;top:428.80px;width:368.8px;"><b>Fig. 3</b>. Digit and class designated as normal class in MNIST</div>
<div class="l" style="left:3258.4px;top:446.88px;width:368.8px;">(Top) and CIFAR10 dataset (Bottom)</div>
<div class="l h" style="left:3258.4px;top:495.60px;width:368.8px;">3.3.&nbsp;&#8202; Comparison with State-of-the-art Methods</div>
<div class="l j" style="left:3258.4px;top:523.90px;width:368.8px;">In the stop sign dataset, proposed method exactly detect the</div>
<div class="l j" style="left:3258.4px;top:541.98px;width:368.8px;">adversarial boundary attack and achieve the best performance</div>
<div class="l j" style="left:3258.4px;top:560.06px;width:368.8px;">in Tab. 2.&#8201; Besides, we also present that proposed method</div>
<div class="l j" style="left:3258.4px;top:578.14px;width:368.8px;">has the clear superiority over cutting-edge abnormal detec-</div>
<div class="l j" style="left:3258.4px;top:596.22px;width:368.8px;">tors, as it is shown in Fig. 3.&#8201; For MNIST dataset, we select</div>
<div class="l j" style="left:3258.4px;top:614.30px;width:368.8px;">one class as the normal each time, while leaving the rest to be</div>
<div class="l j" style="left:3258.4px;top:632.38px;width:368.8px;">the anomaly, leading to ten sets for abnormal detection.&#8201; Our</div>
<div class="l j" style="left:3258.4px;top:650.46px;width:368.8px;">method achieves significantly improvements compared with</div>
<div class="l j" style="left:3258.4px;top:668.54px;width:368.8px;">other compatitors, in term of AUC value, which could be il-</div>
<div class="l j" style="left:3258.4px;top:686.62px;width:368.8px;">lustrated by using red curves in Fig. 3.&#8201; Except for MNIST,</div>
<div class="l" style="left:3258.4px;top:704.70px;width:368.8px;">we also present the comparison in CIFAR10 dataset.</div>
<div class="l h c" style="left:3258.4px;top:746.40px;width:368.8px;">4.&nbsp;&#8202; CONCLUSION</div>
<div class="l j" style="left:3258.4px;top:780.60px;width:368.8px;">To exploit more separable latent representation features be-</div>
<div class="l j" style="left:3258.4px;top:798.68px;width:368.8px;">tween the normal samples and the anomalies in a stable train-</div>
<div class="l j" style="left:3258.4px;top:816.76px;width:368.8px;">ing process, this paper proposed a novel dual adversarial net-</div>
<div class="l j" style="left:3258.4px;top:834.84px;width:368.8px;">work, in which the underlying structure of training data is not</div>
<div class="l j" style="left:3258.4px;top:852.92px;width:368.8px;">only captured in latent feature space, but also can be further</div>
<div class="l j" style="left:3258.4px;top:871.00px;width:368.8px;">restricted in the space of latent representation in a discrimi-</div>
<div class="l j" style="left:3258.4px;top:889.08px;width:368.8px;">nant manner.&#8201; In addition, to tackle with an imbalance of ca-</div>
<div class="l j" style="left:3258.4px;top:907.16px;width:368.8px;">pability between generator and discriminator which results in</div>
<div class="l j" style="left:3258.4px;top:925.24px;width:368.8px;">unstable training and hinders the ability of GAN, the auxiliary</div>
<div class="l j" style="left:3258.4px;top:943.32px;width:368.8px;">autoencoder is employed as a discriminator, leading to a bet-</div>
<div class="l j" style="left:3258.4px;top:961.40px;width:368.8px;">ter balance in the process of training.&#8201; Extensive experiments</div>
<div class="l j" style="left:3258.4px;top:979.48px;width:368.8px;">have been conducted on some datasets, showing high perfor-</div>
<div class="l j" style="left:3258.4px;top:997.56px;width:368.8px;">mance of proposed method and the benefit of using the latent</div>
<div class="l" style="left:3258.4px;top:1015.64px;width:368.8px;">regularizer and the auxiliary autoencoder.</div>
<div class="l h c" style="left:3790.6px;top:109.90px;width:368.8px;">5.&nbsp;&#8202; REFERENCES</div>
<div class="l r" style="left:3790.6px;top:143.90px;width:25.6px;">[1]</div>
<div class="l j" style="left:3823.7px;top:143.90px;width:335.7px;">Masaharu Kawamura, Yoshihito Harada, Ryuichi</div>
<div class="l j" style="left:3823.7px;top:162.08px;width:335.7px;">Kobayashi, Masayuki Suzuki, Tsunemasa Ohara, and</div>
<div class="l j" style="left:3823.7px;top:180.26px;width:335.7px;">Yoichi Tosaka, &#8220;Motorized drive device for camera,&#8221;</div>
<div class="l" style="left:3823.7px;top:198.44px;width:335.7px;">Sept. 1 1987, US Patent 4,690,532.</div>
<div class="l r" style="left:3790.6px;top:228.22px;width:25.6px;">[2]</div>
<div class="l j" style="left:3823.7px;top:228.22px;width:335.7px;">Takuya Nanri and Nobuyuki Otsu, &#8220;Unsupervised ab-</div>
<div class="l j" style="left:3823.7px;top:246.40px;width:335.7px;">normality detection in video surveillance.,&#8221; in <i>MVA</i>,</div>
<div class="l" style="left:3823.7px;top:264.58px;width:335.7px;">2005, pp. 574&#8211;577.</div>
<div class="l r" style="left:3790.6px;top:294.36px;width:25.6px;">[3]</div>
<div class="l j" style="left:3823.7px;top:294.36px;width:335.7px;">Yang Cong, Junsong Yuan, and Ji Liu, &#8220;Sparse recon-</div>
<div class="l j" style="left:3823.7px;top:312.54px;width:335.7px;">struction cost for abnormal event detection,&#8221; in <i>CVPR</i></div>
<div class="l" style="left:3823.7px;top:330.72px;width:335.7px;"><i>2011</i>. IEEE, 2011, pp. 3449&#8211;3456.</div>
<div class="l r" style="left:3790.6px;top:360.50px;width:25.6px;">[4]</div>
<div class="l j" style="left:3823.7px;top:360.50px;width:335.7px;">Cewu Lu, Jianping Shi, and Jiaya Jia, &#8220;Abnormal event</div>
<div class="l j" style="left:3823.7px;top:378.68px;width:335.7px;">detection at 150 fps in matlab,&#8221; in <i>Proceedings of</i></div>
<div class="l j" style="left:3823.7px;top:396.86px;width:335.7px;"><i>the IEEE international conference on computer vision</i>,</div>
<div class="l" style="left:3823.7px;top:415.04px;width:335.7px;">2013, pp. 2720&#8211;2727.</div>
<div class="l r" style="left:3790.6px;top:444.82px;width:25.6px;">[5]</div>
<div class="l j" style="left:3823.7px;top:444.82px;width:335.7px;">Sheng Han, Ruiqing Fu, Suzhen Wang, and Xinyu</div>
<div class="l j" style="left:3823.7px;top:463.00px;width:335.7px;">Wu, &#8220;Online adaptive dictionary learning and weighted</div>
<div class="l j" style="left:3823.7px;top:481.18px;width:335.7px;">sparse coding for abnormality detection,&#8221; in <i>2013 IEEE</i></div>
<div class="l j" style="left:3823.7px;top:499.36px;width:335.7px;"><i>International Conference on Image Processing</i>. IEEE,</div>
<div class="l" style="left:3823.7px;top:517.54px;width:335.7px;">2013, pp. 151&#8211;155.</div>
<div class="l r" style="left:3790.6px;top:547.32px;width:25.6px;">[6]</div>
<div class="l j" style="left:3823.7px;top:547.32px;width:335.7px;">Kun-Lun Li, Hou-Kuan Huang, Sheng-Feng Tian, and</div>
<div class="l j" style="left:3823.7px;top:565.50px;width:335.7px;">Wei Xu, &#8220;Improving one-class svm for anomaly detec-</div>
<div class="l j" style="left:3823.7px;top:583.68px;width:335.7px;">tion,&#8221; in <i>Proceedings of the 2003 International Confer-</i></div>
<div class="l j" style="left:3823.7px;top:601.86px;width:335.7px;"><i>ence on Machine Learning and Cybernetics (IEEE Cat.</i></div>
<div class="l" style="left:3823.7px;top:620.04px;width:335.7px;"><i>No. 03EX693)</i>. IEEE, 2003, vol. 5, pp. 3077&#8211;3081.</div>
<div class="l r" style="left:3790.6px;top:649.82px;width:25.6px;">[7]</div>
<div class="l j" style="left:3823.7px;top:649.82px;width:335.7px;">Longin Jan Latecki, Aleksandar Lazarevic, and</div>
<div class="l j" style="left:3823.7px;top:668.00px;width:335.7px;">Dragoljub Pokrajac, &#8220;Outlier detection with kernel</div>
<div class="l j" style="left:3823.7px;top:686.18px;width:335.7px;">density functions,&#8221; in <i>International Workshop on Ma-</i></div>
<div class="l j" style="left:3823.7px;top:704.36px;width:335.7px;"><i>chine Learning and Data Mining in Pattern Recogni-</i></div>
<div class="l" style="left:3823.7px;top:722.54px;width:335.7px;"><i>tion</i>. Springer, 2007, pp. 61&#8211;75.</div>
<div class="l r" style="left:3790.6px;top:752.32px;width:25.6px;">[8]</div>
<div class="l j" style="left:3823.7px;top:752.32px;width:335.7px;">Mahdyar Ravanbakhsh, Moin Nabi, Enver Sangineto,</div>
<div class="l j" style="left:3823.7px;top:770.50px;width:335.7px;">Lucio Marcenaro, Carlo Regazzoni, and Nicu Sebe,</div>
<div class="l j" style="left:3823.7px;top:788.68px;width:335.7px;">&#8220;Abnormal event detection in videos using generative</div>
<div class="l j" style="left:3823.7px;top:806.86px;width:335.7px;">adversarial nets,&#8221; in <i>2017 IEEE International Con-</i></div>
<div class="l j" style="left:3823.7px;top:825.04px;width:335.7px;"><i>ference on Image Processing (ICIP)</i>. IEEE, 2017, pp.</div>
<div class="l" style="left:3823.7px;top:843.22px;width:335.7px;">1577&#8211;1581.</div>
<div class="l r" style="left:3790.6px;top:873.00px;width:25.6px;">[9]</div>
<div class="l j" style="left:3823.7px;top:873.00px;width:335.7px;">Samet Akcay, Amir Atapour-Abarghouei, and Toby P</div>
<div class="l j" style="left:3823.7px;top:891.18px;width:335.7px;">Breckon, &#8220;Ganomaly: Semi-supervised anomaly detec-</div>
<div class="l j" style="left:3823.7px;top:909.36px;width:335.7px;">tion via adversarial training,&#8221; in <i>Asian Conference on</i></div>
<div class="l" style="left:3823.7px;top:927.54px;width:335.7px;"><i>Computer Vision</i>. Springer, 2018, pp. 622&#8211;637.</div>
<div class="l r" style="left:3790.6px;top:957.32px;width:25.6px;">[10]</div>
<div class="l j" style="left:3823.7px;top:957.32px;width:335.7px;">Mohammad Sabokrou, Mohammad Khalooei, Mah-</div>
<div class="l j" style="left:3823.7px;top:975.50px;width:335.7px;">mood Fathy, and Ehsan Adeli, &#8220;Adversarially learned</div>
<div class="l j" style="left:3823.7px;top:993.68px;width:335.7px;">one-class classifier for novelty detection,&#8221; in <i>Proceed-</i></div>
<div class="l j" style="left:3823.7px;top:1011.86px;width:335.7px;"><i>ings of the IEEE Conference on Computer Vision and</i></div>
<div class="l" style="left:3823.7px;top:1030.04px;width:335.7px;"><i>Pattern Recognition</i>, 2018, pp. 3379&#8211;3388.</div>
<div class="l r" style="left:3790.6px;top:1059.82px;width:25.6px;">[11]</div>
<div class="l j" style="left:3823.7px;top:1059.82px;width:335.7px;">Aleksei Vasilev, Vladimir Golkov, Marc Meissner, Ilona</div>
<div class="l j" style="left:3823.7px;top:1078.00px;width:335.7px;">Lipp, Eleonora Sgarlata, Valentina Tomassini, Derek K</div>
<div class="l j" style="left:4218.5px;top:109.90px;width:335.7px;">Jones, and Daniel Cremers, &#8220;q-space novelty detec-</div>
<div class="l j" style="left:4218.5px;top:128.08px;width:335.7px;">tion with variational autoencoders,&#8221; <i>arXiv preprint</i></div>
<div class="l" style="left:4218.5px;top:146.26px;width:335.7px;"><i>arXiv:1806.02997</i>, 2018.</div>
<div class="l r" style="left:4185.4px;top:176.04px;width:25.6px;">[12]</div>
<div class="l j" style="left:4218.5px;top:176.04px;width:335.7px;">Junbo Zhao, Michael Mathieu, and Yann LeCun,</div>
<div class="l j" style="left:4218.5px;top:194.22px;width:335.7px;">&#8220;Energy-based generative adversarial network,&#8221; <i>arXiv</i></div>
<div class="l" style="left:4218.5px;top:212.40px;width:335.7px;"><i>preprint arXiv:1609.03126</i>, 2016.</div>
<div class="l r" style="left:4185.4px;top:242.18px;width:25.6px;">[13]</div>
<div class="l j" style="left:4218.5px;top:242.18px;width:335.7px;">David Berthelot, Thomas Schumm, and Luke Metz,</div>
<div class="l j" style="left:4218.5px;top:260.36px;width:335.7px;">&#8220;Began: Boundary equilibrium generative adversarial</div>
<div class="l" style="left:4218.5px;top:278.54px;width:335.7px;">networks,&#8221; <i>arXiv preprint arXiv:1703.10717</i>, 2017.</div>
<div class="l r" style="left:4185.4px;top:308.32px;width:25.6px;">[14]</div>
<div class="l j" style="left:4218.5px;top:308.32px;width:335.7px;">Ian Goodfellow, Jean Pouget-Abadie, Mehdi Mirza,</div>
<div class="l j" style="left:4218.5px;top:326.50px;width:335.7px;">Bing Xu, David Warde-Farley, Sherjil Ozair, Aaron</div>
<div class="l j" style="left:4218.5px;top:344.68px;width:335.7px;">Courville, and Yoshua Bengio, &#8220;Generative adversar-</div>
<div class="l j" style="left:4218.5px;top:362.86px;width:335.7px;">ial nets,&#8221; in <i>Advances in neural information processing</i></div>
<div class="l" style="left:4218.5px;top:381.04px;width:335.7px;"><i>systems</i>, 2014, pp. 2672&#8211;2680.</div>
<div class="l r" style="left:4185.4px;top:410.82px;width:25.6px;">[15]</div>
<div class="l j" style="left:4218.5px;top:410.82px;width:335.7px;">Ha Son Vu, Daisuke Ueta, Kiyoshi Hashimoto, Kazuki</div>
<div class="l j" style="left:4218.5px;top:429.00px;width:335.7px;">Maeno, Sugiri Pranata, and Sheng Mei Shen, &#8220;Anomaly</div>
<div class="l j" style="left:4218.5px;top:447.18px;width:335.7px;">detection with adversarial dual autoencoders,&#8221; <i>arXiv</i></div>
<div class="l" style="left:4218.5px;top:465.36px;width:335.7px;"><i>preprint arXiv:1902.06924</i>, 2019.</div>
<div class="l r" style="left:4185.4px;top:495.14px;width:25.6px;">[16]</div>
<div class="l j" style="left:4218.5px;top:495.14px;width:335.7px;">Lukas Ruff, Robert Vandermeulen, Nico Goernitz, Lu-</div>
<div class="l j" style="left:4218.5px;top:513.32px;width:335.7px;">cas Deecke, Shoaib Ahmed Siddiqui, Alexander Binder,</div>
<div class="l j" style="left:4218.5px;top:531.50px;width:335.7px;">Emmanuel M&#252;ller, and Marius Kloft, &#8220;Deep one-class</div>
<div class="l j" style="left:4218.5px;top:549.68px;width:335.7px;">classification,&#8221; in <i>International Conference on Machine</i></div>
<div class="l" style="left:4218.5px;top:567.86px;width:335.7px;"><i>Learning</i>, 2018, pp. 4393&#8211;4402.</div>
<div class="l r" style="left:4185.4px;top:597.64px;width:25.6px;">[17]</div>
<div class="l j" style="left:4218.5px;top:597.64px;width:335.7px;">Johannes Stallkamp, Marc Schlipsing, Jan Salmen, and</div>
<div class="l j" style="left:4218.5px;top:615.82px;width:335.7px;">Christian Igel, &#8220;The german traffic sign recognition</div>
<div class="l j" style="left:4218.5px;top:634.00px;width:335.7px;">benchmark: A multi-class classification competition.,&#8221;</div>
<div class="l" style="left:4218.5px;top:652.18px;width:335.7px;">in <i>IJCNN</i>, 2011, vol. 6, p. 7.</div>
<div class="l r" style="left:4185.4px;top:681.96px;width:25.6px;">[18]</div>
<div class="l j" style="left:4218.5px;top:681.96px;width:335.7px;">Wieland Brendel, Jonas Rauber, and Matthias Bethge,</div>
<div class="l j" style="left:4218.5px;top:700.14px;width:335.7px;">&#8220;Decision-based adversarial attacks: Reliable attacks</div>
<div class="l j" style="left:4218.5px;top:718.32px;width:335.7px;">against black-box machine learning models,&#8221; <i>arXiv</i></div>
<div class="l" style="left:4218.5px;top:736.50px;width:335.7px;"><i>preprint arXiv:1712.04248</i>, 2017.</div>
<div class="l" style="left:1854px;width:927px;top:461.90px;text-align:center;padding-left:0"><b>Fig. 1</b>. Our framework consists of two autoencoders, one discriminator and one latent regularizer.</div>
<svg class="abs" style="left:2010px;top:100px" width="620" height="345" viewBox="2010 100 620 345" font-family="Liberation Serif, serif"><rect x="2066.2" y="115.7" width="60.5" height="45.5" rx="5.5" fill="#fff" stroke="#222" stroke-width="1"/><rect x="2198.3" y="115.7" width="60.5" height="45.5" rx="5.5" fill="#fff" stroke="#222" stroke-width="1"/><circle cx="2071.9" cy="120.0" r="1.45" fill="#9dbde0" stroke="#3a6ea8" stroke-width="0.75"/><circle cx="2077.0" cy="121.1" r="1.45" fill="#9dbde0" stroke="#3a6ea8" stroke-width="0.75"/><circle cx="2083.0" cy="121.0" r="1.45" fill="#9dbde0" stroke="#3a6ea8" stroke-width="0.75"/><circle cx="2090.3" cy="119.7" r="1.45" fill="#9dbde0" stroke="#3a6ea8" stroke-width="0.75"/><circle cx="2096.2" cy="122.0" r="1.45" fill="#9dbde0" stroke="#3a6ea8" stroke-width="0.75"/><circle cx="2112.9" cy="122.1" r="1.45" fill="#9dbde0" stroke="#3a6ea8" stroke-width="0.75"/><circle cx="2119.3" cy="119.9" r="1.45" fill="#9dbde0" stroke="#3a6ea8" stroke-width="0.75"/><circle cx="2076.6" cy="125.6" r="1.45" fill="#9dbde0" stroke="#3a6ea8" stroke-width="0.75"/><circle cx="2082.0" cy="126.2" r="1.45" fill="#9dbde0" stroke="#3a6ea8" stroke-width="0.75"/><circle cx="2086.0" cy="125.3" r="1.45" fill="#9dbde0" stroke="#3a6ea8" stroke-width="0.75"/><circle cx="2094.1" cy="126.4" r="1.45" fill="#9dbde0" stroke="#3a6ea8" stroke-width="0.75"/><circle cx="2099.8" cy="126.5" r="1.45" fill="#9dbde0" stroke="#3a6ea8" stroke-width="0.75"/><circle cx="2106.5" cy="127.2" r="1.45" fill="#9dbde0" stroke="#3a6ea8" stroke-width="0.75"/><circle cx="2111.8" cy="126.7" r="1.45" fill="#9dbde0" stroke="#3a6ea8" stroke-width="0.75"/><circle cx="2071.3" cy="132.2" r="1.45" fill="#9dbde0" stroke="#3a6ea8" stroke-width="0.75"/><circle cx="2079.1" cy="133.0" r="1.45" fill="#9dbde0" stroke="#3a6ea8" stroke-width="0.75"/><circle cx="2085.8" cy="131.6" r="1.45" fill="#9dbde0" stroke="#3a6ea8" stroke-width="0.75"/><circle cx="2090.8" cy="132.4" r="1.45" fill="#9dbde0" stroke="#3a6ea8" stroke-width="0.75"/><circle cx="2097.7" cy="133.5" r="1.45" fill="#9dbde0" stroke="#3a6ea8" stroke-width="0.75"/><circle cx="2103.1" cy="130.9" r="1.45" fill="#9dbde0" stroke="#3a6ea8" stroke-width="0.75"/><circle cx="2109.0" cy="133.7" r="1.45" fill="#9dbde0" stroke="#3a6ea8" stroke-width="0.75"/><circle cx="2113.7" cy="131.9" r="1.45" fill="#9dbde0" stroke="#3a6ea8" stroke-width="0.75"/><circle cx="2118.8" cy="132.1" r="1.45" fill="#9dbde0" stroke="#3a6ea8" stroke-width="0.75"/><circle cx="2074.2" cy="136.5" r="1.45" fill="#9dbde0" stroke="#3a6ea8" stroke-width="0.75"/><circle cx="2080.2" cy="137.0" r="1.45" fill="#9dbde0" stroke="#3a6ea8" stroke-width="0.75"/><circle cx="2088.8" cy="136.5" r="1.45" fill="#9dbde0" stroke="#3a6ea8" stroke-width="0.75"/><circle cx="2093.7" cy="139.0" r="1.45" fill="#9dbde0" stroke="#3a6ea8" stroke-width="0.75"/><circle cx="2100.8" cy="137.1" r="1.45" fill="#9dbde0" stroke="#3a6ea8" stroke-width="0.75"/><circle cx="2110.3" cy="136.8" r="1.45" fill="#9dbde0" stroke="#3a6ea8" stroke-width="0.75"/><circle cx="2116.6" cy="137.8" r="1.45" fill="#9dbde0" stroke="#3a6ea8" stroke-width="0.75"/><circle cx="2079.2" cy="143.4" r="1.45" fill="#9dbde0" stroke="#3a6ea8" stroke-width="0.75"/><circle cx="2091.5" cy="144.5" r="1.45" fill="#9dbde0" stroke="#3a6ea8" stroke-width="0.75"/><circle cx="2096.1" cy="143.1" r="1.45" fill="#9dbde0" stroke="#3a6ea8" stroke-width="0.75"/><circle cx="2103.0" cy="142.1" r="1.45" fill="#9dbde0" stroke="#3a6ea8" stroke-width="0.75"/><circle cx="2107.5" cy="142.4" r="1.45" fill="#9dbde0" stroke="#3a6ea8" stroke-width="0.75"/><circle cx="2112.9" cy="141.9" r="1.45" fill="#9dbde0" stroke="#3a6ea8" stroke-width="0.75"/><circle cx="2119.1" cy="143.0" r="1.45" fill="#9dbde0" stroke="#3a6ea8" stroke-width="0.75"/><circle cx="2076.8" cy="149.3" r="1.45" fill="#9dbde0" stroke="#3a6ea8" stroke-width="0.75"/><circle cx="2080.6" cy="148.5" r="1.45" fill="#9dbde0" stroke="#3a6ea8" stroke-width="0.75"/><circle cx="2093.4" cy="149.0" r="1.45" fill="#9dbde0" stroke="#3a6ea8" stroke-width="0.75"/><circle cx="2098.1" cy="148.5" r="1.45" fill="#9dbde0" stroke="#3a6ea8" stroke-width="0.75"/><circle cx="2106.7" cy="148.0" r="1.45" fill="#9dbde0" stroke="#3a6ea8" stroke-width="0.75"/><circle cx="2113.1" cy="149.1" r="1.45" fill="#9dbde0" stroke="#3a6ea8" stroke-width="0.75"/><circle cx="2117.7" cy="147.6" r="1.45" fill="#9dbde0" stroke="#3a6ea8" stroke-width="0.75"/><circle cx="2071.7" cy="154.2" r="1.45" fill="#9dbde0" stroke="#3a6ea8" stroke-width="0.75"/><circle cx="2079.5" cy="154.7" r="1.45" fill="#9dbde0" stroke="#3a6ea8" stroke-width="0.75"/><circle cx="2083.9" cy="153.8" r="1.45" fill="#9dbde0" stroke="#3a6ea8" stroke-width="0.75"/><circle cx="2092.2" cy="155.7" r="1.45" fill="#9dbde0" stroke="#3a6ea8" stroke-width="0.75"/><circle cx="2097.6" cy="155.3" r="1.45" fill="#9dbde0" stroke="#3a6ea8" stroke-width="0.75"/><circle cx="2102.6" cy="154.2" r="1.45" fill="#9dbde0" stroke="#3a6ea8" stroke-width="0.75"/><circle cx="2106.8" cy="153.9" r="1.45" fill="#9dbde0" stroke="#3a6ea8" stroke-width="0.75"/><circle cx="2115.2" cy="156.0" r="1.45" fill="#9dbde0" stroke="#3a6ea8" stroke-width="0.75"/><circle cx="2078.6" cy="121.3" r="1.85" fill="#e8141c"/><circle cx="2090.1" cy="120.5" r="1.85" fill="#e8141c"/><circle cx="2107.5" cy="118.5" r="1.85" fill="#e8141c"/><circle cx="2081.9" cy="130.0" r="1.85" fill="#e8141c"/><circle cx="2107.5" cy="127.7" r="1.85" fill="#e8141c"/><circle cx="2073.7" cy="140.4" r="1.85" fill="#e8141c"/><circle cx="2116.8" cy="139.6" r="1.85" fill="#e8141c"/><circle cx="2071.0" cy="151.3" r="1.85" fill="#e8141c"/><circle cx="2080.0" cy="156.7" r="1.85" fill="#e8141c"/><circle cx="2111.2" cy="159.2" r="1.85" fill="#e8141c"/><circle cx="2210.7" cy="121.3" r="1.85" fill="#e8141c"/><circle cx="2222.5" cy="120.5" r="1.85" fill="#e8141c"/><circle cx="2239.7" cy="118.5" r="1.85" fill="#e8141c"/><circle cx="2203.0" cy="130.0" r="1.85" fill="#e8141c"/><circle cx="2246.1" cy="127.7" r="1.85" fill="#e8141c"/><circle cx="2206.0" cy="140.4" r="1.85" fill="#e8141c"/><circle cx="2248.9" cy="139.6" r="1.85" fill="#e8141c"/><circle cx="2203.0" cy="151.3" r="1.85" fill="#e8141c"/><circle cx="2212.4" cy="156.7" r="1.85" fill="#e8141c"/><circle cx="2243.3" cy="159.2" r="1.85" fill="#e8141c"/><circle cx="2227.5" cy="125.0" r="1.45" fill="#9dbde0" stroke="#3a6ea8" stroke-width="0.75"/><circle cx="2220.6" cy="127.3" r="1.45" fill="#9dbde0" stroke="#3a6ea8" stroke-width="0.75"/><circle cx="2223.0" cy="126.7" r="1.45" fill="#9dbde0" stroke="#3a6ea8" stroke-width="0.75"/><circle cx="2226.4" cy="127.3" r="1.45" fill="#9dbde0" stroke="#3a6ea8" stroke-width="0.75"/><circle cx="2229.3" cy="127.0" r="1.45" fill="#9dbde0" stroke="#3a6ea8" stroke-width="0.75"/><circle cx="2232.0" cy="126.8" r="1.45" fill="#9dbde0" stroke="#3a6ea8" stroke-width="0.75"/><circle cx="2234.3" cy="126.8" r="1.45" fill="#9dbde0" stroke="#3a6ea8" stroke-width="0.75"/><circle cx="2218.5" cy="129.3" r="1.45" fill="#9dbde0" stroke="#3a6ea8" stroke-width="0.75"/><circle cx="2221.9" cy="129.3" r="1.45" fill="#9dbde0" stroke="#3a6ea8" stroke-width="0.75"/><circle cx="2224.7" cy="129.8" r="1.45" fill="#9dbde0" stroke="#3a6ea8" stroke-width="0.75"/><circle cx="2227.3" cy="129.8" r="1.45" fill="#9dbde0" stroke="#3a6ea8" stroke-width="0.75"/><circle cx="2229.7" cy="129.8" r="1.45" fill="#9dbde0" stroke="#3a6ea8" stroke-width="0.75"/><circle cx="2232.8" cy="130.0" r="1.45" fill="#9dbde0" stroke="#3a6ea8" stroke-width="0.75"/><circle cx="2214.8" cy="132.5" r="1.45" fill="#9dbde0" stroke="#3a6ea8" stroke-width="0.75"/><circle cx="2217.7" cy="132.0" r="1.45" fill="#9dbde0" stroke="#3a6ea8" stroke-width="0.75"/><circle cx="2220.6" cy="132.7" r="1.45" fill="#9dbde0" stroke="#3a6ea8" stroke-width="0.75"/><circle cx="2222.5" cy="132.2" r="1.45" fill="#9dbde0" stroke="#3a6ea8" stroke-width="0.75"/><circle cx="2225.5" cy="131.8" r="1.45" fill="#9dbde0" stroke="#3a6ea8" stroke-width="0.75"/><circle cx="2229.1" cy="132.8" r="1.45" fill="#9dbde0" stroke="#3a6ea8" stroke-width="0.75"/><circle cx="2231.9" cy="132.5" r="1.45" fill="#9dbde0" stroke="#3a6ea8" stroke-width="0.75"/><circle cx="2235.0" cy="132.9" r="1.45" fill="#9dbde0" stroke="#3a6ea8" stroke-width="0.75"/><circle cx="2238.0" cy="132.2" r="1.45" fill="#9dbde0" stroke="#3a6ea8" stroke-width="0.75"/><circle cx="2215.8" cy="134.8" r="1.45" fill="#9dbde0" stroke="#3a6ea8" stroke-width="0.75"/><circle cx="2218.4" cy="135.0" r="1.45" fill="#9dbde0" stroke="#3a6ea8" stroke-width="0.75"/><circle cx="2221.0" cy="135.5" r="1.45" fill="#9dbde0" stroke="#3a6ea8" stroke-width="0.75"/><circle cx="2225.0" cy="134.4" r="1.45" fill="#9dbde0" stroke="#3a6ea8" stroke-width="0.75"/><circle cx="2226.7" cy="135.2" r="1.45" fill="#9dbde0" stroke="#3a6ea8" stroke-width="0.75"/><circle cx="2233.5" cy="134.6" r="1.45" fill="#9dbde0" stroke="#3a6ea8" stroke-width="0.75"/><circle cx="2236.5" cy="135.0" r="1.45" fill="#9dbde0" stroke="#3a6ea8" stroke-width="0.75"/><circle cx="2238.4" cy="134.4" r="1.45" fill="#9dbde0" stroke="#3a6ea8" stroke-width="0.75"/><circle cx="2214.7" cy="137.0" r="1.45" fill="#9dbde0" stroke="#3a6ea8" stroke-width="0.75"/><circle cx="2217.1" cy="137.3" r="1.45" fill="#9dbde0" stroke="#3a6ea8" stroke-width="0.75"/><circle cx="2220.6" cy="137.2" r="1.45" fill="#9dbde0" stroke="#3a6ea8" stroke-width="0.75"/><circle cx="2223.0" cy="137.2" r="1.45" fill="#9dbde0" stroke="#3a6ea8" stroke-width="0.75"/><circle cx="2225.4" cy="137.0" r="1.45" fill="#9dbde0" stroke="#3a6ea8" stroke-width="0.75"/><circle cx="2228.5" cy="137.3" r="1.45" fill="#9dbde0" stroke="#3a6ea8" stroke-width="0.75"/><circle cx="2231.4" cy="137.5" r="1.45" fill="#9dbde0" stroke="#3a6ea8" stroke-width="0.75"/><circle cx="2234.4" cy="136.9" r="1.45" fill="#9dbde0" stroke="#3a6ea8" stroke-width="0.75"/><circle cx="2236.9" cy="137.8" r="1.45" fill="#9dbde0" stroke="#3a6ea8" stroke-width="0.75"/><circle cx="2215.5" cy="140.5" r="1.45" fill="#9dbde0" stroke="#3a6ea8" stroke-width="0.75"/><circle cx="2218.8" cy="140.0" r="1.45" fill="#9dbde0" stroke="#3a6ea8" stroke-width="0.75"/><circle cx="2221.0" cy="139.7" r="1.45" fill="#9dbde0" stroke="#3a6ea8" stroke-width="0.75"/><circle cx="2224.7" cy="139.8" r="1.45" fill="#9dbde0" stroke="#3a6ea8" stroke-width="0.75"/><circle cx="2226.8" cy="140.5" r="1.45" fill="#9dbde0" stroke="#3a6ea8" stroke-width="0.75"/><circle cx="2230.4" cy="139.8" r="1.45" fill="#9dbde0" stroke="#3a6ea8" stroke-width="0.75"/><circle cx="2232.9" cy="140.1" r="1.45" fill="#9dbde0" stroke="#3a6ea8" stroke-width="0.75"/><circle cx="2239.5" cy="140.2" r="1.45" fill="#9dbde0" stroke="#3a6ea8" stroke-width="0.75"/><circle cx="2242.4" cy="139.9" r="1.45" fill="#9dbde0" stroke="#3a6ea8" stroke-width="0.75"/><circle cx="2213.9" cy="142.7" r="1.45" fill="#9dbde0" stroke="#3a6ea8" stroke-width="0.75"/><circle cx="2216.9" cy="142.2" r="1.45" fill="#9dbde0" stroke="#3a6ea8" stroke-width="0.75"/><circle cx="2219.5" cy="142.1" r="1.45" fill="#9dbde0" stroke="#3a6ea8" stroke-width="0.75"/><circle cx="2222.6" cy="142.8" r="1.45" fill="#9dbde0" stroke="#3a6ea8" stroke-width="0.75"/><circle cx="2226.2" cy="142.9" r="1.45" fill="#9dbde0" stroke="#3a6ea8" stroke-width="0.75"/><circle cx="2229.2" cy="142.6" r="1.45" fill="#9dbde0" stroke="#3a6ea8" stroke-width="0.75"/><circle cx="2232.2" cy="142.3" r="1.45" fill="#9dbde0" stroke="#3a6ea8" stroke-width="0.75"/><circle cx="2234.7" cy="142.2" r="1.45" fill="#9dbde0" stroke="#3a6ea8" stroke-width="0.75"/><circle cx="2237.9" cy="142.9" r="1.45" fill="#9dbde0" stroke="#3a6ea8" stroke-width="0.75"/><circle cx="2240.7" cy="142.3" r="1.45" fill="#9dbde0" stroke="#3a6ea8" stroke-width="0.75"/><circle cx="2213.0" cy="145.5" r="1.45" fill="#9dbde0" stroke="#3a6ea8" stroke-width="0.75"/><circle cx="2215.1" cy="144.9" r="1.45" fill="#9dbde0" stroke="#3a6ea8" stroke-width="0.75"/><circle cx="2218.1" cy="145.7" r="1.45" fill="#9dbde0" stroke="#3a6ea8" stroke-width="0.75"/><circle cx="2221.7" cy="145.5" r="1.45" fill="#9dbde0" stroke="#3a6ea8" stroke-width="0.75"/><circle cx="2224.4" cy="144.7" r="1.45" fill="#9dbde0" stroke="#3a6ea8" stroke-width="0.75"/><circle cx="2227.6" cy="145.3" r="1.45" fill="#9dbde0" stroke="#3a6ea8" stroke-width="0.75"/><circle cx="2230.4" cy="144.8" r="1.45" fill="#9dbde0" stroke="#3a6ea8" stroke-width="0.75"/><circle cx="2232.8" cy="144.8" r="1.45" fill="#9dbde0" stroke="#3a6ea8" stroke-width="0.75"/><circle cx="2236.3" cy="144.9" r="1.45" fill="#9dbde0" stroke="#3a6ea8" stroke-width="0.75"/><circle cx="2239.5" cy="145.3" r="1.45" fill="#9dbde0" stroke="#3a6ea8" stroke-width="0.75"/><circle cx="2217.4" cy="147.7" r="1.45" fill="#9dbde0" stroke="#3a6ea8" stroke-width="0.75"/><circle cx="2219.5" cy="147.4" r="1.45" fill="#9dbde0" stroke="#3a6ea8" stroke-width="0.75"/><circle cx="2223.2" cy="148.1" r="1.45" fill="#9dbde0" stroke="#3a6ea8" stroke-width="0.75"/><circle cx="2225.6" cy="147.9" r="1.45" fill="#9dbde0" stroke="#3a6ea8" stroke-width="0.75"/><circle cx="2228.7" cy="147.4" r="1.45" fill="#9dbde0" stroke="#3a6ea8" stroke-width="0.75"/><circle cx="2234.0" cy="147.9" r="1.45" fill="#9dbde0" stroke="#3a6ea8" stroke-width="0.75"/><circle cx="2238.0" cy="147.8" r="1.45" fill="#9dbde0" stroke="#3a6ea8" stroke-width="0.75"/><circle cx="2240.0" cy="148.4" r="1.45" fill="#9dbde0" stroke="#3a6ea8" stroke-width="0.75"/><circle cx="2215.9" cy="150.2" r="1.45" fill="#9dbde0" stroke="#3a6ea8" stroke-width="0.75"/><circle cx="2218.6" cy="149.9" r="1.45" fill="#9dbde0" stroke="#3a6ea8" stroke-width="0.75"/><circle cx="2221.5" cy="150.4" r="1.45" fill="#9dbde0" stroke="#3a6ea8" stroke-width="0.75"/><circle cx="2224.0" cy="150.3" r="1.45" fill="#9dbde0" stroke="#3a6ea8" stroke-width="0.75"/><circle cx="2227.7" cy="149.9" r="1.45" fill="#9dbde0" stroke="#3a6ea8" stroke-width="0.75"/><circle cx="2233.4" cy="151.0" r="1.45" fill="#9dbde0" stroke="#3a6ea8" stroke-width="0.75"/><circle cx="2223.4" cy="153.5" r="1.45" fill="#9dbde0" stroke="#3a6ea8" stroke-width="0.75"/><circle cx="2226.3" cy="153.6" r="1.45" fill="#9dbde0" stroke="#3a6ea8" stroke-width="0.75"/><circle cx="2229.0" cy="152.6" r="1.45" fill="#9dbde0" stroke="#3a6ea8" stroke-width="0.75"/><circle cx="2231.6" cy="153.4" r="1.45" fill="#9dbde0" stroke="#3a6ea8" stroke-width="0.75"/><circle cx="2226.9" cy="155.3" r="1.45" fill="#9dbde0" stroke="#3a6ea8" stroke-width="0.75"/><circle cx="2227.3" cy="140.1" r="17.4" fill="none" stroke="#222" stroke-width="0.8" stroke-dasharray="1.6,1.2"/><line x1="2138.2" y1="128.4" x2="2153.3" y2="122.1" stroke="#333" stroke-width="0.45"/><line x1="2138.2" y1="128.4" x2="2153.3" y2="134.6" stroke="#333" stroke-width="0.45"/><line x1="2138.2" y1="128.4" x2="2153.3" y2="146.8" stroke="#333" stroke-width="0.45"/><line x1="2138.2" y1="140.8" x2="2153.3" y2="122.1" stroke="#333" stroke-width="0.45"/><line x1="2138.2" y1="140.8" x2="2153.3" y2="134.6" stroke="#333" stroke-width="0.45"/><line x1="2138.2" y1="140.8" x2="2153.3" y2="146.8" stroke="#333" stroke-width="0.45"/><line x1="2153.3" y1="122.1" x2="2168.9" y2="122.1" stroke="#333" stroke-width="0.45"/><line x1="2153.3" y1="122.1" x2="2168.9" y2="134.6" stroke="#333" stroke-width="0.45"/><line x1="2153.3" y1="122.1" x2="2168.9" y2="146.8" stroke="#333" stroke-width="0.45"/><line x1="2153.3" y1="134.6" x2="2168.9" y2="122.1" stroke="#333" stroke-width="0.45"/><line x1="2153.3" y1="134.6" x2="2168.9" y2="134.6" stroke="#333" stroke-width="0.45"/><line x1="2153.3" y1="134.6" x2="2168.9" y2="146.8" stroke="#333" stroke-width="0.45"/><line x1="2153.3" y1="146.8" x2="2168.9" y2="122.1" stroke="#333" stroke-width="0.45"/><line x1="2153.3" y1="146.8" x2="2168.9" y2="134.6" stroke="#333" stroke-width="0.45"/><line x1="2153.3" y1="146.8" x2="2168.9" y2="146.8" stroke="#333" stroke-width="0.45"/><line x1="2168.9" y1="122.1" x2="2183.1" y2="128.8" stroke="#333" stroke-width="0.45"/><line x1="2168.9" y1="122.1" x2="2183.1" y2="140.8" stroke="#333" stroke-width="0.45"/><line x1="2168.9" y1="134.6" x2="2183.1" y2="128.8" stroke="#333" stroke-width="0.45"/><line x1="2168.9" y1="134.6" x2="2183.1" y2="140.8" stroke="#333" stroke-width="0.45"/><line x1="2168.9" y1="146.8" x2="2183.1" y2="128.8" stroke="#333" stroke-width="0.45"/><line x1="2168.9" y1="146.8" x2="2183.1" y2="140.8" stroke="#333" stroke-width="0.45"/><circle cx="2138.2" cy="128.4" r="0.9" fill="#000"/><circle cx="2138.2" cy="140.8" r="0.9" fill="#000"/><circle cx="2153.3" cy="122.1" r="0.9" fill="#000"/><circle cx="2153.3" cy="134.6" r="0.9" fill="#000"/><circle cx="2153.3" cy="146.8" r="0.9" fill="#000"/><circle cx="2168.9" cy="122.1" r="0.9" fill="#000"/><circle cx="2168.9" cy="134.6" r="0.9" fill="#000"/><circle cx="2168.9" cy="146.8" r="0.9" fill="#000"/><circle cx="2183.1" cy="128.8" r="0.9" fill="#000"/><circle cx="2183.1" cy="140.8" r="0.9" fill="#000"/><polyline points="2143.8,116.2 2177.5,116.2" fill="none" stroke="#000" stroke-width="0.8"/><polyline points="2175.2,114.4 2178.4,116.2 2175.2,118" fill="none" stroke="#000" stroke-width="0.8"/><text x="2097.5" y="174.2" font-size="11" font-weight="bold" text-anchor="middle">Latent space</text><rect x="2143.8" y="152.2" width="35.6" height="18" rx="2.5" fill="#FFD966"/><rect x="2246.7" y="225.5" width="35.3" height="18" rx="2.5" fill="#A9D18E"/><rect x="2144.5" y="339.3" width="35.5" height="17.7" rx="2.5" fill="#EE6A6A"/><rect x="2434" y="109" width="34" height="17" rx="2.5" fill="#4472C4"/><rect x="2431" y="252.4" width="34" height="17" rx="2.5" fill="#4472C4"/><rect x="2517" y="354.5" width="35" height="18" rx="2.5" fill="#AFA3FB"/><polyline points="2162.0,291.0 2162.0,172.0" fill="none" stroke="#5a5a5a" stroke-width="0.8" stroke-dasharray="1.1,1.3"/><polyline points="2160.3,174.2 2162.0,171.2 2163.7,174.2" fill="none" stroke="#555" stroke-width="0.7"/><polyline points="2162.0,235.0 2245.5,235.0" fill="none" stroke="#5a5a5a" stroke-width="0.8" stroke-dasharray="1.1,1.3"/><polyline points="2243.2,233.3 2246.2,235.0 2243.2,236.7" fill="none" stroke="#555" stroke-width="0.7"/><polyline points="2443.7,207.4 2443.7,234.8 2283.0,234.8" fill="none" stroke="#5a5a5a" stroke-width="0.8" stroke-dasharray="1.1,1.3"/><polyline points="2285.4,233.2 2282.4,234.8 2285.4,236.5" fill="none" stroke="#555" stroke-width="0.7"/><polyline points="2034.5,349.0 2143.5,349.0" fill="none" stroke="#5a5a5a" stroke-width="0.8" stroke-dasharray="1.1,1.3"/><polyline points="2141.2,347.4 2144.2,349.0 2141.2,350.6" fill="none" stroke="#555" stroke-width="0.7"/><polyline points="2303.0,348.3 2181.0,348.3" fill="none" stroke="#5a5a5a" stroke-width="0.8" stroke-dasharray="1.1,1.3"/><polyline points="2183.3,346.7 2180.3,348.3 2183.3,349.9" fill="none" stroke="#555" stroke-width="0.7"/><polyline points="2301.5,183.0 2301.5,117.0 2433.0,117.0" fill="none" stroke="#5a5a5a" stroke-width="0.8" stroke-dasharray="1.1,1.3"/><polyline points="2430.6,115.3 2433.6,117.0 2430.6,118.7" fill="none" stroke="#555" stroke-width="0.7"/><polyline points="2582.0,184.0 2582.0,117.0 2469.0,117.0" fill="none" stroke="#5a5a5a" stroke-width="0.8" stroke-dasharray="1.1,1.3"/><polyline points="2471.4,115.3 2468.4,117.0 2471.4,118.7" fill="none" stroke="#555" stroke-width="0.7"/><polyline points="2303.0,261.0 2430.0,261.0" fill="none" stroke="#5a5a5a" stroke-width="0.8" stroke-dasharray="1.1,1.3"/><polyline points="2427.6,259.4 2430.6,261.0 2427.6,262.6" fill="none" stroke="#555" stroke-width="0.7"/><polyline points="2582.0,200.0 2582.0,261.0 2466.0,261.0" fill="none" stroke="#5a5a5a" stroke-width="0.8" stroke-dasharray="1.1,1.3"/><polyline points="2468.4,259.4 2465.4,261.0 2468.4,262.6" fill="none" stroke="#555" stroke-width="0.7"/><polyline points="2501.0,364.2 2512.5,364.2" fill="none" stroke="#000" stroke-width="0.8" stroke-dasharray="1.1,1.3"/><polygon points="2515.5,364.2 2512.5,362.6 2512.5,365.8" fill="#000"/><polyline points="2032.4,266.5 2032.4,183.4 2320.0,183.4" fill="none" stroke="#000" stroke-width="1.3"/><polygon points="2323.4,183.4 2319.4,181.2 2319.4,185.6" fill="#000"/><polyline points="2032.4,310.0 2032.4,367.8 2382.0,367.8" fill="none" stroke="#000" stroke-width="1.3"/><polygon points="2385.5,367.8 2381.5,365.6 2381.5,370.0" fill="#000"/><polyline points="2023.4,295.0 2039.5,295.0" fill="none" stroke="#000" stroke-width="1.3"/><polygon points="2043.0,295.0 2039.0,292.8 2039.0,297.2" fill="#000"/><polyline points="2303.0,268.0 2303.0,204.0 2320.0,204.0" fill="none" stroke="#000" stroke-width="1.3"/><polygon points="2323.4,204.0 2319.4,201.8 2319.4,206.2" fill="#000"/><polyline points="2303.0,296.5 2303.0,348.3 2382.0,348.3" fill="none" stroke="#000" stroke-width="1.3"/><polygon points="2385.5,348.3 2381.5,346.1 2381.5,350.5" fill="#000"/><polyline points="2574.5,184.0 2589.5,184.0" fill="none" stroke="#000" stroke-width="1.3"/><polygon points="2593.0,184.0 2589.0,181.8 2589.0,186.2" fill="#000"/><polyline points="2574.5,200.5 2589.5,200.5" fill="none" stroke="#000" stroke-width="1.3"/><polygon points="2593.0,200.5 2589.0,198.3 2589.0,202.7" fill="#000"/><polygon points="2044.6,254.5 2066.5,275.5 2066.5,335.5 2044.6,314.5" fill="#D59D74"/><polygon points="2044.6,254.5 2061.1,254.5 2083.0,275.5 2066.5,275.5" fill="#F7C29E"/><rect x="2066.5" y="275.5" width="16.5" height="60.0" fill="#F4B183"/><polygon points="2078.5,264.4 2094.4,280.0 2094.4,330.4 2078.5,314.8" fill="#D59D74"/><polygon points="2078.5,264.4 2089.6,264.4 2105.5,280.0 2094.4,280.0" fill="#F7C29E"/><rect x="2094.4" y="280.0" width="11.1" height="50.4" fill="#F4B183"/><polygon points="2107.0,275.5 2118.4,287.5 2118.4,325.6 2107.0,313.6" fill="#D59D74"/><polygon points="2107.0,275.5 2116.0,275.5 2127.4,287.5 2118.4,287.5" fill="#F7C29E"/><rect x="2118.4" y="287.5" width="9.0" height="38.1" fill="#F4B183"/><polygon points="2132.5,283.0 2138.5,289.0 2138.5,319.6 2132.5,313.6" fill="#D59D74"/><polygon points="2132.5,283.0 2137.8,283.0 2143.8,289.0 2138.5,289.0" fill="#F7C29E"/><rect x="2138.5" y="289.0" width="5.3" height="30.6" fill="#F4B183"/><polygon points="2146.0,291.4 2149.6,295.0 2149.6,313.6 2146.0,310.0" fill="#D59D74"/><polygon points="2146.0,291.4 2149.3,291.4 2152.9,295.0 2149.6,295.0" fill="#F7C29E"/><rect x="2149.6" y="295.0" width="3.3" height="18.6" fill="#F4B183"/><rect x="2159" y="291.3" width="5.2" height="24" fill="#A6A6A6"/><polygon points="2175.4,289.0 2179.6,292.6 2179.6,311.5 2175.4,307.9" fill="#2F5597"/><polygon points="2175.4,289.0 2178.4,289.0 2182.6,292.6 2179.6,292.6" fill="#5A86D2"/><rect x="2179.6" y="292.6" width="3.0" height="18.9" fill="#4472C4"/><polygon points="2188.0,281.5 2195.5,287.5 2195.5,318.4 2188.0,312.4" fill="#2F5597"/><polygon points="2188.0,281.5 2192.5,281.5 2200.0,287.5 2195.5,287.5" fill="#5A86D2"/><rect x="2195.5" y="287.5" width="4.5" height="30.9" fill="#4472C4"/><polygon points="2201.5,274.0 2212.0,285.4 2212.0,325.0 2201.5,313.6" fill="#2F5597"/><polygon points="2201.5,274.0 2211.1,274.0 2221.6,285.4 2212.0,285.4" fill="#5A86D2"/><rect x="2212.0" y="285.4" width="9.6" height="39.6" fill="#4472C4"/><polygon points="2222.5,264.4 2237.5,280.0 2237.5,331.0 2222.5,315.4" fill="#2F5597"/><polygon points="2222.5,264.4 2234.5,264.4 2249.5,280.0 2237.5,280.0" fill="#5A86D2"/><rect x="2237.5" y="280.0" width="12.0" height="51.0" fill="#4472C4"/><polygon points="2248.0,255.4 2269.0,276.4 2269.0,336.4 2248.0,315.4" fill="#2F5597"/><polygon points="2248.0,255.4 2264.5,255.4 2285.5,276.4 2269.0,276.4" fill="#5A86D2"/><rect x="2269.0" y="276.4" width="16.5" height="60.0" fill="#4472C4"/><polygon points="2323.4,148.6 2345.0,170.5 2345.0,229.0 2323.4,207.1" fill="#D59D74"/><polygon points="2323.4,148.6 2339.9,148.6 2361.5,170.5 2345.0,170.5" fill="#F7C29E"/><rect x="2345.0" y="170.5" width="16.5" height="58.5" fill="#F4B183"/><polygon points="2357.0,158.5 2372.0,173.5 2372.0,223.6 2357.0,208.6" fill="#D59D74"/><polygon points="2357.0,158.5 2369.6,158.5 2384.6,173.5 2372.0,173.5" fill="#F7C29E"/><rect x="2372.0" y="173.5" width="12.6" height="50.1" fill="#F4B183"/><polygon points="2386.0,169.6 2396.6,180.4 2396.6,219.4 2386.0,208.6" fill="#D59D74"/><polygon points="2386.0,169.6 2395.4,169.6 2406.0,180.4 2396.6,180.4" fill="#F7C29E"/><rect x="2396.6" y="180.4" width="9.4" height="39.0" fill="#F4B183"/><polygon points="2410.4,177.4 2417.0,183.4 2417.0,213.4 2410.4,207.4" fill="#D59D74"/><polygon points="2410.4,177.4 2415.8,177.4 2422.4,183.4 2417.0,183.4" fill="#F7C29E"/><rect x="2417.0" y="183.4" width="5.4" height="30.0" fill="#F4B183"/><polygon points="2425.4,185.5 2428.4,188.5 2428.4,207.0 2425.4,204.0" fill="#D59D74"/><polygon points="2425.4,185.5 2428.4,185.5 2431.4,188.5 2428.4,188.5" fill="#F7C29E"/><rect x="2428.4" y="188.5" width="3.0" height="18.5" fill="#F4B183"/><rect x="2441" y="184" width="5.4" height="23.4" fill="#A6A6A6"/><polygon points="2457.5,182.5 2461.4,185.5 2461.4,204.4 2457.5,201.4" fill="#2F5597"/><polygon points="2457.5,182.5 2460.5,182.5 2464.4,185.5 2461.4,185.5" fill="#5A86D2"/><rect x="2461.4" y="185.5" width="3.0" height="18.9" fill="#4472C4"/><polygon points="2470.4,175.0 2477.6,181.0 2477.6,211.0 2470.4,205.0" fill="#2F5597"/><polygon points="2470.4,175.0 2476.4,175.0 2483.6,181.0 2477.6,181.0" fill="#5A86D2"/><rect x="2477.6" y="181.0" width="6.0" height="30.0" fill="#4472C4"/><polygon points="2485.0,167.5 2496.5,180.4 2496.5,217.0 2485.0,204.1" fill="#2F5597"/><polygon points="2485.0,167.5 2495.5,167.5 2507.0,180.4 2496.5,180.4" fill="#5A86D2"/><rect x="2496.5" y="180.4" width="10.5" height="36.6" fill="#4472C4"/><polygon points="2508.0,158.5 2524.4,175.0 2524.4,222.4 2508.0,205.9" fill="#2F5597"/><polygon points="2508.0,158.5 2521.2,158.5 2537.6,175.0 2524.4,175.0" fill="#5A86D2"/><rect x="2524.4" y="175.0" width="13.2" height="47.4" fill="#4472C4"/><polygon points="2530.4,149.5 2554.4,172.0 2554.4,228.4 2530.4,205.9" fill="#2F5597"/><polygon points="2530.4,149.5 2548.4,149.5 2572.4,172.0 2554.4,172.0" fill="#5A86D2"/><rect x="2554.4" y="172.0" width="18.0" height="56.4" fill="#4472C4"/><polygon points="2388.7,316.4 2410.9,338.0 2410.9,397.4 2388.7,375.8" fill="#88B36D"/><polygon points="2388.7,316.4 2404.8,316.4 2427.0,338.0 2410.9,338.0" fill="#B9DBA2"/><rect x="2410.9" y="338.0" width="16.1" height="59.4" fill="#A9D18E"/><polygon points="2419.8,325.9 2435.2,341.5 2435.2,392.0 2419.8,376.4" fill="#88B36D"/><polygon points="2419.8,325.9 2431.9,325.9 2447.3,341.5 2435.2,341.5" fill="#B9DBA2"/><rect x="2435.2" y="341.5" width="12.1" height="50.5" fill="#A9D18E"/><polygon points="2445.4,335.3 2456.7,347.0 2456.7,386.0 2445.4,374.3" fill="#88B36D"/><polygon points="2445.4,335.3 2454.3,335.3 2465.6,347.0 2456.7,347.0" fill="#B9DBA2"/><rect x="2456.7" y="347.0" width="8.9" height="39.0" fill="#A9D18E"/><polygon points="2468.3,344.8 2474.8,351.5 2474.8,381.2 2468.3,374.5" fill="#88B36D"/><polygon points="2468.3,344.8 2474.5,344.8 2481.0,351.5 2474.8,351.5" fill="#B9DBA2"/><rect x="2474.8" y="351.5" width="6.2" height="29.7" fill="#A9D18E"/><polygon points="2485.0,352.9 2488.3,357.0 2488.3,375.8 2485.0,371.7" fill="#88B36D"/><polygon points="2485.0,352.9 2488.5,352.9 2491.8,357.0 2488.3,357.0" fill="#B9DBA2"/><rect x="2488.3" y="357.0" width="3.5" height="18.8" fill="#A9D18E"/><polygon points="2496.7,357.0 2498.0,358.3 2498.0,374.4 2496.7,373.1" fill="#88B36D"/><polygon points="2496.7,357.0 2498.7,357.0 2500.0,358.3 2498.0,358.3" fill="#B9DBA2"/><rect x="2498.0" y="358.3" width="2.0" height="16.1" fill="#A9D18E"/><text x="2026.4" y="289" font-size="15" font-style="italic">X</text><text x="2297.5" y="291.4" font-size="15" font-style="italic">X&#8242;</text><text x="2157.2" y="331" font-size="13" font-style="italic">Z</text><text x="2439" y="176" font-size="13" font-style="italic">Z&#8242;</text><text x="2594" y="189" font-size="13" font-style="italic">X&#8243;</text><text x="2594" y="205.5" font-size="13" font-style="italic">X&#8244;</text><text x="2080.4" y="256.6" font-size="10.6" font-weight="bold">Encoder</text><text x="2122" y="256.6" font-size="13" font-style="italic">G<tspan font-size="9" dy="2">e</tspan><tspan dy="-2" font-style="normal">(&#183;)</tspan></text><text x="2171.5" y="256.2" font-size="10.6" font-weight="bold">Decoder</text><text x="2215.6" y="256.2" font-size="13" font-style="italic">G<tspan font-size="9" dy="2">d</tspan><tspan dy="-2" font-style="normal">(&#183;)</tspan></text><text x="2349.5" y="143.5" font-size="10.6" font-weight="bold">Encoder</text><text x="2391.5" y="143.5" font-size="13" font-style="italic">G<tspan font-size="9" dy="2">e&#8242;</tspan><tspan dy="-2" font-style="normal">(&#183;)</tspan></text><text x="2483" y="142.5" font-size="10.6" font-weight="bold">Decoder</text><text x="2527.4" y="142.5" font-size="13" font-style="italic">G<tspan font-size="9" dy="2">d&#8242;</tspan><tspan dy="-2" font-style="normal">(&#183;)</tspan></text><text x="2445" y="327" font-size="10.6" font-weight="bold">Discriminator</text><text x="2520" y="327" font-size="13" font-style="italic">D<tspan font-style="normal">(&#183;)</tspan></text><rect x="2026.6" y="383" width="35.4" height="17.6" rx="2.5" fill="#A9D18E"/><text x="2069.5" y="396.2" font-size="11.1" font-weight="bold">Latent representation loss</text><rect x="2204.5" y="383.5" width="35.4" height="17.6" rx="2.5" fill="#FFD966"/><text x="2245" y="398.5" font-size="11.1" font-weight="bold">Center distance loss</text><rect x="2026.6" y="414.4" width="35.4" height="17.6" rx="2.5" fill="#AFA3FB"/><text x="2068" y="427.2" font-size="11.1" font-weight="bold">Adversarial loss</text><rect x="2205" y="414.4" width="35.4" height="17.6" rx="2.5" fill="#EE6A6A"/><text x="2245.5" y="427.6" font-size="11.1" font-weight="bold">Image reconstruction loss</text><rect x="2383.3" y="415" width="35.4" height="17.6" rx="2.5" fill="#4472C4"/><text x="2423" y="427.9" font-size="11.1" font-weight="bold">Dual autoencoder loss</text></svg>
<svg class="abs" style="left:2860px;top:290px" width="380" height="160" viewBox="2860 290 380 160" font-family="Liberation Serif, serif"><rect x="2875.9" y="296.2" width="168.3" height="129.5" fill="#EAEAF2"/><line x1="2895.7" y1="296.2" x2="2895.7" y2="425.7" stroke="#fff" stroke-width="0.9"/><line x1="2921.6" y1="296.2" x2="2921.6" y2="425.7" stroke="#fff" stroke-width="0.9"/><line x1="2947.5" y1="296.2" x2="2947.5" y2="425.7" stroke="#fff" stroke-width="0.9"/><line x1="2973.4" y1="296.2" x2="2973.4" y2="425.7" stroke="#fff" stroke-width="0.9"/><line x1="2999.3" y1="296.2" x2="2999.3" y2="425.7" stroke="#fff" stroke-width="0.9"/><line x1="3025.2" y1="296.2" x2="3025.2" y2="425.7" stroke="#fff" stroke-width="0.9"/><line x1="2875.9" y1="424.6" x2="3044.2" y2="424.6" stroke="#fff" stroke-width="0.9"/><line x1="2875.9" y1="398.6" x2="3044.2" y2="398.6" stroke="#fff" stroke-width="0.9"/><line x1="2875.9" y1="372.6" x2="3044.2" y2="372.6" stroke="#fff" stroke-width="0.9"/><line x1="2875.9" y1="346.6" x2="3044.2" y2="346.6" stroke="#fff" stroke-width="0.9"/><line x1="2875.9" y1="320.6" x2="3044.2" y2="320.6" stroke="#fff" stroke-width="0.9"/><rect x="2898.9" y="421.5" width="3.24" height="3.1" fill="rgba(76,114,176,0.42)" stroke="rgba(255,255,255,0.35)" stroke-width="0.3"/><rect x="2902.2" y="410.2" width="3.24" height="14.4" fill="rgba(76,114,176,0.42)" stroke="rgba(255,255,255,0.35)" stroke-width="0.3"/><rect x="2905.4" y="390.1" width="3.24" height="34.5" fill="rgba(76,114,176,0.42)" stroke="rgba(255,255,255,0.35)" stroke-width="0.3"/><rect x="2908.6" y="367.3" width="3.24" height="57.3" fill="rgba(76,114,176,0.42)" stroke="rgba(255,255,255,0.35)" stroke-width="0.3"/><rect x="2911.9" y="352.1" width="3.24" height="72.5" fill="rgba(76,114,176,0.42)" stroke="rgba(255,255,255,0.35)" stroke-width="0.3"/><rect x="2915.1" y="339.4" width="3.24" height="85.2" fill="rgba(76,114,176,0.42)" stroke="rgba(255,255,255,0.35)" stroke-width="0.3"/><rect x="2918.4" y="323.4" width="3.24" height="101.2" fill="rgba(76,114,176,0.42)" stroke="rgba(255,255,255,0.35)" stroke-width="0.3"/><rect x="2921.6" y="330.1" width="3.24" height="94.5" fill="rgba(76,114,176,0.42)" stroke="rgba(255,255,255,0.35)" stroke-width="0.3"/><rect x="2924.8" y="335.4" width="3.24" height="89.2" fill="rgba(76,114,176,0.42)" stroke="rgba(255,255,255,0.35)" stroke-width="0.3"/><rect x="2928.1" y="336.3" width="3.24" height="88.3" fill="rgba(76,114,176,0.42)" stroke="rgba(255,255,255,0.35)" stroke-width="0.3"/><rect x="2931.3" y="352.1" width="3.24" height="72.5" fill="rgba(76,114,176,0.42)" stroke="rgba(255,255,255,0.35)" stroke-width="0.3"/><rect x="2934.5" y="360.5" width="3.24" height="64.1" fill="rgba(76,114,176,0.42)" stroke="rgba(255,255,255,0.35)" stroke-width="0.3"/><rect x="2937.8" y="373.9" width="3.24" height="50.7" fill="rgba(76,114,176,0.42)" stroke="rgba(255,255,255,0.35)" stroke-width="0.3"/><rect x="2941.0" y="382.9" width="3.24" height="41.7" fill="rgba(76,114,176,0.42)" stroke="rgba(255,255,255,0.35)" stroke-width="0.3"/><rect x="2944.3" y="393.5" width="3.24" height="31.1" fill="rgba(76,114,176,0.42)" stroke="rgba(255,255,255,0.35)" stroke-width="0.3"/><rect x="2947.5" y="398.9" width="3.24" height="25.7" fill="rgba(76,114,176,0.42)" stroke="rgba(255,255,255,0.35)" stroke-width="0.3"/><rect x="2950.7" y="404.3" width="3.24" height="20.3" fill="rgba(76,114,176,0.42)" stroke="rgba(255,255,255,0.35)" stroke-width="0.3"/><rect x="2954.0" y="409.8" width="3.24" height="14.8" fill="rgba(76,114,176,0.42)" stroke="rgba(255,255,255,0.35)" stroke-width="0.3"/><rect x="2957.2" y="413.0" width="3.24" height="11.6" fill="rgba(76,114,176,0.42)" stroke="rgba(255,255,255,0.35)" stroke-width="0.3"/><rect x="2960.4" y="415.5" width="3.24" height="9.1" fill="rgba(76,114,176,0.42)" stroke="rgba(255,255,255,0.35)" stroke-width="0.3"/><rect x="2963.7" y="417.2" width="3.24" height="7.4" fill="rgba(76,114,176,0.42)" stroke="rgba(255,255,255,0.35)" stroke-width="0.3"/><rect x="2966.9" y="416.2" width="3.24" height="8.4" fill="rgba(76,114,176,0.42)" stroke="rgba(255,255,255,0.35)" stroke-width="0.3"/><rect x="2970.2" y="415.5" width="3.24" height="9.1" fill="rgba(76,114,176,0.42)" stroke="rgba(255,255,255,0.35)" stroke-width="0.3"/><rect x="2973.4" y="415.4" width="3.24" height="9.2" fill="rgba(76,114,176,0.42)" stroke="rgba(255,255,255,0.35)" stroke-width="0.3"/><rect x="2976.6" y="416.6" width="3.24" height="8.0" fill="rgba(76,114,176,0.42)" stroke="rgba(255,255,255,0.35)" stroke-width="0.3"/><rect x="2979.9" y="418.1" width="3.24" height="6.5" fill="rgba(76,114,176,0.42)" stroke="rgba(255,255,255,0.35)" stroke-width="0.3"/><rect x="2983.1" y="420.9" width="3.24" height="3.7" fill="rgba(76,114,176,0.42)" stroke="rgba(255,255,255,0.35)" stroke-width="0.3"/><rect x="2986.3" y="422.7" width="3.24" height="1.9" fill="rgba(76,114,176,0.42)" stroke="rgba(255,255,255,0.35)" stroke-width="0.3"/><rect x="2989.6" y="423.7" width="3.24" height="0.9" fill="rgba(76,114,176,0.42)" stroke="rgba(255,255,255,0.35)" stroke-width="0.3"/><rect x="2898.9" y="423.0" width="3.24" height="1.6" fill="rgba(221,84,90,0.40)" stroke="rgba(255,255,255,0.35)" stroke-width="0.3"/><rect x="2902.2" y="412.9" width="3.24" height="11.7" fill="rgba(221,84,90,0.40)" stroke="rgba(255,255,255,0.35)" stroke-width="0.3"/><rect x="2905.4" y="387.2" width="3.24" height="37.4" fill="rgba(221,84,90,0.40)" stroke="rgba(255,255,255,0.35)" stroke-width="0.3"/><rect x="2908.6" y="356.0" width="3.24" height="68.6" fill="rgba(221,84,90,0.40)" stroke="rgba(255,255,255,0.35)" stroke-width="0.3"/><rect x="2911.9" y="319.6" width="3.24" height="105.0" fill="rgba(221,84,90,0.40)" stroke="rgba(255,255,255,0.35)" stroke-width="0.3"/><rect x="2915.1" y="299.3" width="3.24" height="125.3" fill="rgba(221,84,90,0.40)" stroke="rgba(255,255,255,0.35)" stroke-width="0.3"/><rect x="2918.4" y="304.5" width="3.24" height="120.1" fill="rgba(221,84,90,0.40)" stroke="rgba(255,255,255,0.35)" stroke-width="0.3"/><rect x="2921.6" y="309.4" width="3.24" height="115.2" fill="rgba(221,84,90,0.40)" stroke="rgba(255,255,255,0.35)" stroke-width="0.3"/><rect x="2924.8" y="321.8" width="3.24" height="102.8" fill="rgba(221,84,90,0.40)" stroke="rgba(255,255,255,0.35)" stroke-width="0.3"/><rect x="2928.1" y="331.2" width="3.24" height="93.4" fill="rgba(221,84,90,0.40)" stroke="rgba(255,255,255,0.35)" stroke-width="0.3"/><rect x="2931.3" y="355.2" width="3.24" height="69.4" fill="rgba(221,84,90,0.40)" stroke="rgba(255,255,255,0.35)" stroke-width="0.3"/><rect x="2934.5" y="370.8" width="3.24" height="53.8" fill="rgba(221,84,90,0.40)" stroke="rgba(255,255,255,0.35)" stroke-width="0.3"/><rect x="2937.8" y="386.7" width="3.24" height="37.9" fill="rgba(221,84,90,0.40)" stroke="rgba(255,255,255,0.35)" stroke-width="0.3"/><rect x="2941.0" y="397.0" width="3.24" height="27.6" fill="rgba(221,84,90,0.40)" stroke="rgba(255,255,255,0.35)" stroke-width="0.3"/><rect x="2944.3" y="405.8" width="3.24" height="18.8" fill="rgba(221,84,90,0.40)" stroke="rgba(255,255,255,0.35)" stroke-width="0.3"/><rect x="2947.5" y="411.9" width="3.24" height="12.7" fill="rgba(221,84,90,0.40)" stroke="rgba(255,255,255,0.35)" stroke-width="0.3"/><rect x="2950.7" y="416.0" width="3.24" height="8.6" fill="rgba(221,84,90,0.40)" stroke="rgba(255,255,255,0.35)" stroke-width="0.3"/><rect x="2954.0" y="418.9" width="3.24" height="5.7" fill="rgba(221,84,90,0.40)" stroke="rgba(255,255,255,0.35)" stroke-width="0.3"/><rect x="2957.2" y="420.6" width="3.24" height="4.0" fill="rgba(221,84,90,0.40)" stroke="rgba(255,255,255,0.35)" stroke-width="0.3"/><rect x="2960.4" y="421.6" width="3.24" height="3.0" fill="rgba(221,84,90,0.40)" stroke="rgba(255,255,255,0.35)" stroke-width="0.3"/><rect x="2963.7" y="421.6" width="3.24" height="3.0" fill="rgba(221,84,90,0.40)" stroke="rgba(255,255,255,0.35)" stroke-width="0.3"/><rect x="2966.9" y="421.3" width="3.24" height="3.3" fill="rgba(221,84,90,0.40)" stroke="rgba(255,255,255,0.35)" stroke-width="0.3"/><rect x="2970.2" y="420.9" width="3.24" height="3.7" fill="rgba(221,84,90,0.40)" stroke="rgba(255,255,255,0.35)" stroke-width="0.3"/><rect x="2973.4" y="421.2" width="3.24" height="3.4" fill="rgba(221,84,90,0.40)" stroke="rgba(255,255,255,0.35)" stroke-width="0.3"/><rect x="2976.6" y="422.2" width="3.24" height="2.4" fill="rgba(221,84,90,0.40)" stroke="rgba(255,255,255,0.35)" stroke-width="0.3"/><rect x="2979.9" y="423.0" width="3.24" height="1.6" fill="rgba(221,84,90,0.40)" stroke="rgba(255,255,255,0.35)" stroke-width="0.3"/><rect x="2983.1" y="423.8" width="3.24" height="0.8" fill="rgba(221,84,90,0.40)" stroke="rgba(255,255,255,0.35)" stroke-width="0.3"/><polyline points="2882.4,424.6 2882.9,424.6 2883.4,424.6 2883.9,424.6 2884.4,424.6 2885.0,424.6 2885.5,424.6 2886.0,424.6 2886.5,424.6 2887.0,424.6 2887.6,424.6 2888.1,424.6 2888.6,424.6 2889.1,424.6 2889.6,424.6 2890.1,424.6 2890.7,424.6 2891.2,424.6 2891.7,424.6 2892.2,424.6 2892.7,424.6 2893.3,424.6 2893.8,424.6 2894.3,424.6 2894.8,424.6 2895.3,424.6 2895.8,424.6 2896.4,424.6 2896.9,424.6 2897.4,424.5 2897.9,424.4 2898.4,424.2 2899.0,423.8 2899.5,423.3 2900.0,422.5 2900.5,421.6 2901.0,420.4 2901.5,419.0 2902.1,417.3 2902.6,415.4 2903.1,413.2 2903.6,410.9 2904.1,408.3 2904.6,405.4 2905.2,402.5 2905.7,399.3 2906.2,396.0 2906.7,392.6 2907.2,389.1 2907.8,385.5 2908.3,381.9 2908.8,378.3 2909.3,374.7 2909.8,371.1 2910.3,367.6 2910.9,364.1 2911.4,360.7 2911.9,357.5 2912.4,354.3 2912.9,351.3 2913.5,348.4 2914.0,345.7 2914.5,343.2 2915.0,340.8 2915.5,338.6 2916.0,336.6 2916.6,334.7 2917.1,333.1 2917.6,331.7 2918.1,330.4 2918.6,329.3 2919.2,328.4 2919.7,327.7 2920.2,327.2 2920.7,326.8 2921.2,326.6 2921.7,326.6 2922.3,326.7 2922.8,327.0 2923.3,327.4 2923.8,327.9 2924.3,328.6 2924.9,329.4 2925.4,330.3 2925.9,331.3 2926.4,332.4 2926.9,333.6 2927.4,334.9 2928.0,336.2 2928.5,337.7 2929.0,339.2 2929.5,340.7 2930.0,342.3 2930.5,343.9 2931.1,345.6 2931.6,347.3 2932.1,349.0 2932.6,350.8 2933.1,352.6 2933.7,354.3 2934.2,356.1 2934.7,357.9 2935.2,359.7 2935.7,361.5 2936.2,363.3 2936.8,365.0 2937.3,366.8 2937.8,368.5 2938.3,370.2 2938.8,371.9 2939.4,373.6 2939.9,375.3 2940.4,376.9 2940.9,378.5 2941.4,380.0 2941.9,381.6 2942.5,383.1 2943.0,384.5 2943.5,386.0 2944.0,387.4 2944.5,388.7 2945.1,390.1 2945.6,391.4 2946.1,392.6 2946.6,393.8 2947.1,395.0 2947.6,396.2 2948.2,397.3 2948.7,398.4 2949.2,399.5 2949.7,400.5 2950.2,401.5 2950.8,402.4 2951.3,403.3 2951.8,404.2 2952.3,405.1 2952.8,405.9 2953.3,406.7 2953.9,407.5 2954.4,408.2 2954.9,408.9 2955.4,409.6 2955.9,410.3 2956.4,410.9 2957.0,411.5 2957.5,412.0 2958.0,412.6 2958.5,413.1 2959.0,413.6 2959.6,414.0 2960.1,414.4 2960.6,414.8 2961.1,415.2 2961.6,415.5 2962.1,415.8 2962.7,416.0 2963.2,416.2 2963.7,416.4 2964.2,416.6 2964.7,416.7 2965.3,416.7 2965.8,416.8 2966.3,416.8 2966.8,416.8 2967.3,416.7 2967.8,416.6 2968.4,416.5 2968.9,416.4 2969.4,416.3 2969.9,416.1 2970.4,416.0 2971.0,415.8 2971.5,415.7 2972.0,415.5 2972.5,415.4 2973.0,415.3 2973.5,415.2 2974.1,415.2 2974.6,415.2 2975.1,415.2 2975.6,415.2 2976.1,415.3 2976.7,415.5 2977.2,415.7 2977.7,415.9 2978.2,416.1 2978.7,416.4 2979.2,416.8 2979.8,417.1 2980.3,417.5 2980.8,417.9 2981.3,418.3 2981.8,418.7 2982.3,419.1 2982.9,419.5 2983.4,419.9 2983.9,420.3 2984.4,420.7 2984.9,421.0 2985.5,421.4 2986.0,421.7 2986.5,422.0 2987.0,422.3 2987.5,422.5 2988.0,422.8 2988.6,423.0 2989.1,423.2 2989.6,423.3 2990.1,423.5 2990.6,423.6 2991.2,423.7 2991.7,423.8 2992.2,423.9 2992.7,424.0 2993.2,424.1 2993.7,424.1 2994.3,424.2 2994.8,424.2 2995.3,424.3 2995.8,424.3 2996.3,424.3 2996.9,424.4 2997.4,424.4 2997.9,424.4 2998.4,424.4 2998.9,424.4" fill="none" stroke="#4C72B0" stroke-width="0.9"/><polyline points="2882.4,424.6 2882.9,424.6 2883.4,424.6 2883.9,424.6 2884.4,424.6 2885.0,424.6 2885.5,424.6 2886.0,424.6 2886.5,424.6 2887.0,424.6 2887.6,424.6 2888.1,424.6 2888.6,424.6 2889.1,424.6 2889.6,424.6 2890.1,424.6 2890.7,424.6 2891.2,424.6 2891.7,424.6 2892.2,424.6 2892.7,424.6 2893.3,424.6 2893.8,424.6 2894.3,424.6 2894.8,424.6 2895.3,424.6 2895.8,424.6 2896.4,424.6 2896.9,424.6 2897.4,424.6 2897.9,424.6 2898.4,424.5 2899.0,424.4 2899.5,424.1 2900.0,423.7 2900.5,423.2 2901.0,422.4 2901.5,421.3 2902.1,419.9 2902.6,418.2 2903.1,416.2 2903.6,413.7 2904.1,410.9 2904.6,407.7 2905.2,404.1 2905.7,400.1 2906.2,395.9 2906.7,391.3 2907.2,386.5 2907.8,381.5 2908.3,376.3 2908.8,371.0 2909.3,365.6 2909.8,360.2 2910.3,354.8 2910.9,349.5 2911.4,344.2 2911.9,339.2 2912.4,334.3 2912.9,329.7 2913.5,325.3 2914.0,321.2 2914.5,317.4 2915.0,313.9 2915.5,310.7 2916.0,308.0 2916.6,305.5 2917.1,303.5 2917.6,301.7 2918.1,300.4 2918.6,299.4 2919.2,298.7 2919.7,298.4 2920.2,298.4 2920.7,298.8 2921.2,299.4 2921.7,300.3 2922.3,301.4 2922.8,302.8 2923.3,304.4 2923.8,306.3 2924.3,308.3 2924.9,310.5 2925.4,312.8 2925.9,315.3 2926.4,317.9 2926.9,320.6 2927.4,323.4 2928.0,326.3 2928.5,329.2 2929.0,332.1 2929.5,335.1 2930.0,338.1 2930.5,341.1 2931.1,344.1 2931.6,347.1 2932.1,350.0 2932.6,352.9 2933.1,355.8 2933.7,358.6 2934.2,361.4 2934.7,364.1 2935.2,366.8 2935.7,369.4 2936.2,371.9 2936.8,374.4 2937.3,376.8 2937.8,379.1 2938.3,381.3 2938.8,383.5 2939.4,385.6 2939.9,387.6 2940.4,389.5 2940.9,391.4 2941.4,393.1 2941.9,394.8 2942.5,396.5 2943.0,398.0 2943.5,399.5 2944.0,400.9 2944.5,402.3 2945.1,403.6 2945.6,404.8 2946.1,406.0 2946.6,407.1 2947.1,408.1 2947.6,409.1 2948.2,410.1 2948.7,411.0 2949.2,411.8 2949.7,412.6 2950.2,413.4 2950.8,414.1 2951.3,414.8 2951.8,415.4 2952.3,416.0 2952.8,416.5 2953.3,417.1 2953.9,417.6 2954.4,418.0 2954.9,418.4 2955.4,418.8 2955.9,419.2 2956.4,419.5 2957.0,419.9 2957.5,420.2 2958.0,420.4 2958.5,420.7 2959.0,420.9 2959.6,421.1 2960.1,421.2 2960.6,421.4 2961.1,421.5 2961.6,421.6 2962.1,421.7 2962.7,421.8 2963.2,421.8 2963.7,421.8 2964.2,421.8 2964.7,421.8 2965.3,421.8 2965.8,421.7 2966.3,421.7 2966.8,421.6 2967.3,421.6 2967.8,421.5 2968.4,421.4 2968.9,421.3 2969.4,421.3 2969.9,421.2 2970.4,421.2 2971.0,421.1 2971.5,421.1 2972.0,421.1 2972.5,421.0 2973.0,421.1 2973.5,421.1 2974.1,421.1 2974.6,421.2 2975.1,421.3 2975.6,421.4 2976.1,421.5 2976.7,421.6 2977.2,421.7 2977.7,421.9 2978.2,422.0 2978.7,422.2 2979.2,422.4 2979.8,422.5 2980.3,422.7 2980.8,422.9 2981.3,423.0 2981.8,423.2 2982.3,423.3 2982.9,423.4 2983.4,423.6 2983.9,423.7 2984.4,423.8 2984.9,423.9 2985.5,424.0 2986.0,424.1 2986.5,424.1 2987.0,424.2 2987.5,424.3 2988.0,424.3 2988.6,424.4 2989.1,424.4 2989.6,424.4 2990.1,424.5 2990.6,424.5 2991.2,424.5 2991.7,424.5 2992.2,424.5 2992.7,424.5 2993.2,424.6 2993.7,424.6 2994.3,424.6 2994.8,424.6 2995.3,424.6 2995.8,424.6 2996.3,424.6 2996.9,424.6 2997.4,424.6 2997.9,424.6 2998.4,424.6 2998.9,424.6" fill="none" stroke="#C44E52" stroke-width="0.9"/><text x="2895.7" y="433.2" font-size="5.6" fill="#333" text-anchor="middle" font-family="Liberation Sans, DejaVu Sans, sans-serif">0.0</text><text x="2921.6" y="433.2" font-size="5.6" fill="#333" text-anchor="middle" font-family="Liberation Sans, DejaVu Sans, sans-serif">0.2</text><text x="2947.5" y="433.2" font-size="5.6" fill="#333" text-anchor="middle" font-family="Liberation Sans, DejaVu Sans, sans-serif">0.4</text><text x="2973.4" y="433.2" font-size="5.6" fill="#333" text-anchor="middle" font-family="Liberation Sans, DejaVu Sans, sans-serif">0.6</text><text x="2999.3" y="433.2" font-size="5.6" fill="#333" text-anchor="middle" font-family="Liberation Sans, DejaVu Sans, sans-serif">0.8</text><text x="3025.2" y="433.2" font-size="5.6" fill="#333" text-anchor="middle" font-family="Liberation Sans, DejaVu Sans, sans-serif">1.0</text><text x="2872.9" y="426.6" font-size="5.6" fill="#333" text-anchor="end" font-family="Liberation Sans, DejaVu Sans, sans-serif">0</text><text x="2872.9" y="400.6" font-size="5.6" fill="#333" text-anchor="end" font-family="Liberation Sans, DejaVu Sans, sans-serif">1</text><text x="2872.9" y="374.6" font-size="5.6" fill="#333" text-anchor="end" font-family="Liberation Sans, DejaVu Sans, sans-serif">2</text><text x="2872.9" y="348.6" font-size="5.6" fill="#333" text-anchor="end" font-family="Liberation Sans, DejaVu Sans, sans-serif">3</text><text x="2872.9" y="322.6" font-size="5.6" fill="#333" text-anchor="end" font-family="Liberation Sans, DejaVu Sans, sans-serif">4</text><text x="2962.1" y="442.7" font-size="7.2" text-anchor="middle" textLength="146" lengthAdjust="spacingAndGlyphs">Abnormal score without dual autoencoder constraint</text><rect x="2968.7" y="308.8" width="38.5" height="7.2" fill="rgba(76,114,176,0.55)"/><rect x="2968.7" y="321.4" width="38.5" height="7.2" fill="rgba(221,84,90,0.45)"/><text x="3010.0" y="314.6" font-size="5.6" fill="#222" font-family="Liberation Sans, DejaVu Sans, sans-serif">Abnormal</text><text x="3010.0" y="327.2" font-size="5.6" fill="#222" font-family="Liberation Sans, DejaVu Sans, sans-serif">Normal</text><rect x="3060.4" y="296.2" width="167.3" height="129.5" fill="#EAEAF2"/><line x1="3077.3" y1="296.2" x2="3077.3" y2="425.7" stroke="#fff" stroke-width="0.9"/><line x1="3113.6" y1="296.2" x2="3113.6" y2="425.7" stroke="#fff" stroke-width="0.9"/><line x1="3149.8" y1="296.2" x2="3149.8" y2="425.7" stroke="#fff" stroke-width="0.9"/><line x1="3186.1" y1="296.2" x2="3186.1" y2="425.7" stroke="#fff" stroke-width="0.9"/><line x1="3222.3" y1="296.2" x2="3222.3" y2="425.7" stroke="#fff" stroke-width="0.9"/><line x1="3060.4" y1="424.6" x2="3227.7" y2="424.6" stroke="#fff" stroke-width="0.9"/><line x1="3060.4" y1="405.0" x2="3227.7" y2="405.0" stroke="#fff" stroke-width="0.9"/><line x1="3060.4" y1="385.3" x2="3227.7" y2="385.3" stroke="#fff" stroke-width="0.9"/><line x1="3060.4" y1="365.7" x2="3227.7" y2="365.7" stroke="#fff" stroke-width="0.9"/><line x1="3060.4" y1="346.0" x2="3227.7" y2="346.0" stroke="#fff" stroke-width="0.9"/><line x1="3060.4" y1="326.4" x2="3227.7" y2="326.4" stroke="#fff" stroke-width="0.9"/><line x1="3060.4" y1="306.7" x2="3227.7" y2="306.7" stroke="#fff" stroke-width="0.9"/><rect x="3077.3" y="420.7" width="2.18" height="3.9" fill="rgba(76,114,176,0.42)" stroke="rgba(255,255,255,0.35)" stroke-width="0.3"/><rect x="3079.5" y="409.7" width="2.18" height="14.9" fill="rgba(76,114,176,0.42)" stroke="rgba(255,255,255,0.35)" stroke-width="0.3"/><rect x="3081.7" y="398.8" width="2.18" height="25.8" fill="rgba(76,114,176,0.42)" stroke="rgba(255,255,255,0.35)" stroke-width="0.3"/><rect x="3083.8" y="394.1" width="2.18" height="30.5" fill="rgba(76,114,176,0.42)" stroke="rgba(255,255,255,0.35)" stroke-width="0.3"/><rect x="3086.0" y="393.3" width="2.18" height="31.3" fill="rgba(76,114,176,0.42)" stroke="rgba(255,255,255,0.35)" stroke-width="0.3"/><rect x="3088.2" y="394.8" width="2.18" height="29.8" fill="rgba(76,114,176,0.42)" stroke="rgba(255,255,255,0.35)" stroke-width="0.3"/><rect x="3090.4" y="394.1" width="2.18" height="30.5" fill="rgba(76,114,176,0.42)" stroke="rgba(255,255,255,0.35)" stroke-width="0.3"/><rect x="3092.5" y="396.8" width="2.18" height="27.8" fill="rgba(76,114,176,0.42)" stroke="rgba(255,255,255,0.35)" stroke-width="0.3"/><rect x="3094.7" y="402.9" width="2.18" height="21.7" fill="rgba(76,114,176,0.42)" stroke="rgba(255,255,255,0.35)" stroke-width="0.3"/><rect x="3096.9" y="404.3" width="2.18" height="20.3" fill="rgba(76,114,176,0.42)" stroke="rgba(255,255,255,0.35)" stroke-width="0.3"/><rect x="3099.1" y="408.3" width="2.18" height="16.3" fill="rgba(76,114,176,0.42)" stroke="rgba(255,255,255,0.35)" stroke-width="0.3"/><rect x="3101.2" y="411.5" width="2.18" height="13.1" fill="rgba(76,114,176,0.42)" stroke="rgba(255,255,255,0.35)" stroke-width="0.3"/><rect x="3103.4" y="413.5" width="2.18" height="11.1" fill="rgba(76,114,176,0.42)" stroke="rgba(255,255,255,0.35)" stroke-width="0.3"/><rect x="3105.6" y="415.0" width="2.18" height="9.6" fill="rgba(76,114,176,0.42)" stroke="rgba(255,255,255,0.35)" stroke-width="0.3"/><rect x="3107.8" y="416.6" width="2.18" height="8.0" fill="rgba(76,114,176,0.42)" stroke="rgba(255,255,255,0.35)" stroke-width="0.3"/><rect x="3109.9" y="418.7" width="2.18" height="5.9" fill="rgba(76,114,176,0.42)" stroke="rgba(255,255,255,0.35)" stroke-width="0.3"/><rect x="3112.1" y="419.4" width="2.18" height="5.2" fill="rgba(76,114,176,0.42)" stroke="rgba(255,255,255,0.35)" stroke-width="0.3"/><rect x="3114.3" y="420.6" width="2.18" height="4.0" fill="rgba(76,114,176,0.42)" stroke="rgba(255,255,255,0.35)" stroke-width="0.3"/><rect x="3116.5" y="421.0" width="2.18" height="3.6" fill="rgba(76,114,176,0.42)" stroke="rgba(255,255,255,0.35)" stroke-width="0.3"/><rect x="3118.6" y="421.8" width="2.18" height="2.8" fill="rgba(76,114,176,0.42)" stroke="rgba(255,255,255,0.35)" stroke-width="0.3"/><rect x="3120.8" y="422.2" width="2.18" height="2.4" fill="rgba(76,114,176,0.42)" stroke="rgba(255,255,255,0.35)" stroke-width="0.3"/><rect x="3123.0" y="422.6" width="2.18" height="2.0" fill="rgba(76,114,176,0.42)" stroke="rgba(255,255,255,0.35)" stroke-width="0.3"/><rect x="3125.2" y="423.1" width="2.18" height="1.5" fill="rgba(76,114,176,0.42)" stroke="rgba(255,255,255,0.35)" stroke-width="0.3"/><rect x="3127.3" y="423.3" width="2.18" height="1.3" fill="rgba(76,114,176,0.42)" stroke="rgba(255,255,255,0.35)" stroke-width="0.3"/><rect x="3129.5" y="423.6" width="2.18" height="1.0" fill="rgba(76,114,176,0.42)" stroke="rgba(255,255,255,0.35)" stroke-width="0.3"/><rect x="3131.7" y="423.9" width="2.18" height="0.7" fill="rgba(76,114,176,0.42)" stroke="rgba(255,255,255,0.35)" stroke-width="0.3"/><rect x="3133.9" y="424.0" width="2.18" height="0.6" fill="rgba(76,114,176,0.42)" stroke="rgba(255,255,255,0.35)" stroke-width="0.3"/><rect x="3136.0" y="424.1" width="2.18" height="0.5" fill="rgba(76,114,176,0.42)" stroke="rgba(255,255,255,0.35)" stroke-width="0.3"/><rect x="3077.3" y="394.0" width="2.18" height="30.6" fill="rgba(221,84,90,0.40)" stroke="rgba(255,255,255,0.35)" stroke-width="0.3"/><rect x="3079.5" y="336.1" width="2.18" height="88.5" fill="rgba(221,84,90,0.40)" stroke="rgba(255,255,255,0.35)" stroke-width="0.3"/><rect x="3081.7" y="307.7" width="2.18" height="116.9" fill="rgba(221,84,90,0.40)" stroke="rgba(255,255,255,0.35)" stroke-width="0.3"/><rect x="3083.8" y="356.0" width="2.18" height="68.6" fill="rgba(221,84,90,0.40)" stroke="rgba(255,255,255,0.35)" stroke-width="0.3"/><rect x="3086.0" y="406.3" width="2.18" height="18.3" fill="rgba(221,84,90,0.40)" stroke="rgba(255,255,255,0.35)" stroke-width="0.3"/><rect x="3088.2" y="422.4" width="2.18" height="2.2" fill="rgba(221,84,90,0.40)" stroke="rgba(255,255,255,0.35)" stroke-width="0.3"/><polyline points="3069.5,424.6 3070.2,424.6 3070.9,424.6 3071.6,424.6 3072.4,424.6 3073.1,424.6 3073.8,424.6 3074.5,424.6 3075.3,424.6 3076.0,424.6 3076.7,424.6 3077.4,424.4 3078.2,421.9 3078.9,418.2 3079.6,414.2 3080.3,410.3 3081.1,406.6 3081.8,403.4 3082.5,400.5 3083.2,398.2 3084.0,396.2 3084.7,394.8 3085.4,393.7 3086.1,392.9 3086.9,392.6 3087.6,392.5 3088.3,392.6 3089.0,393.0 3089.8,393.5 3090.5,394.2 3091.2,395.1 3091.9,396.0 3092.7,397.0 3093.4,398.0 3094.1,399.1 3094.8,400.3 3095.6,401.4 3096.3,402.5 3097.0,403.6 3097.7,404.7 3098.5,405.8 3099.2,406.8 3099.9,407.8 3100.6,408.8 3101.4,409.7 3102.1,410.6 3102.8,411.5 3103.5,412.3 3104.3,413.0 3105.0,413.7 3105.7,414.4 3106.4,415.1 3107.2,415.7 3107.9,416.2 3108.6,416.8 3109.3,417.3 3110.1,417.7 3110.8,418.2 3111.5,418.6 3112.2,419.0 3113.0,419.3 3113.7,419.7 3114.4,420.0 3115.1,420.3 3115.9,420.6 3116.6,420.8 3117.3,421.1 3118.0,421.3 3118.8,421.5 3119.5,421.7 3120.2,421.9 3120.9,422.1 3121.7,422.2 3122.4,422.4 3123.1,422.5 3123.8,422.7 3124.6,422.8 3125.3,422.9 3126.0,423.0 3126.7,423.1 3127.5,423.2 3128.2,423.3 3128.9,423.4 3129.6,423.5 3130.4,423.6 3131.1,423.7 3131.8,423.7 3132.5,423.8 3133.3,423.9 3134.0,423.9 3134.7,424.0 3135.4,424.0 3136.2,424.1 3136.9,424.1 3137.6,424.1 3138.3,424.2 3139.1,424.2 3139.8,424.3 3140.5,424.3 3141.2,424.3 3142.0,424.3 3142.7,424.4 3143.4,424.4 3144.1,424.4 3144.9,424.4 3145.6,424.4 3146.3,424.5 3147.0,424.5 3147.8,424.5 3148.5,424.5 3149.2,424.5 3149.9,424.5 3150.7,424.5 3151.4,424.5 3152.1,424.5 3152.8,424.5 3153.6,424.6 3154.3,424.6 3155.0,424.6 3155.7,424.6 3156.5,424.6 3157.2,424.6 3157.9,424.6 3158.6,424.6 3159.4,424.6 3160.1,424.6 3160.8,424.6 3161.5,424.6 3162.3,424.6 3163.0,424.6 3163.7,424.6 3164.4,424.6 3165.2,424.6 3165.9,424.6 3166.6,424.6 3167.3,424.6" fill="none" stroke="#4C72B0" stroke-width="0.9"/><polyline points="3069.5,424.6 3070.2,424.6 3070.9,424.6 3071.6,424.6 3072.4,424.6 3073.1,424.5 3073.8,424.3 3074.5,423.9 3075.3,422.9 3076.0,420.8 3076.7,416.6 3077.4,409.4 3078.2,398.2 3078.9,382.5 3079.6,363.2 3080.3,342.5 3081.1,324.0 3081.8,311.8 3082.5,308.6 3083.2,315.5 3084.0,330.5 3084.7,350.3 3085.4,370.9 3086.1,389.0 3086.9,403.0 3087.6,412.6 3088.3,418.5 3089.0,421.7 3089.8,423.4 3090.5,424.1 3091.2,424.4 3091.9,424.5 3092.7,424.6 3093.4,424.6 3094.1,424.6 3094.8,424.6 3095.6,424.6 3096.3,424.6 3097.0,424.6 3097.7,424.6 3098.5,424.6 3099.2,424.6 3099.9,424.6 3100.6,424.6 3101.4,424.6 3102.1,424.6 3102.8,424.6 3103.5,424.6 3104.3,424.6 3105.0,424.6 3105.7,424.6 3106.4,424.6 3107.2,424.6 3107.9,424.6 3108.6,424.6 3109.3,424.6 3110.1,424.6 3110.8,424.6 3111.5,424.6 3112.2,424.6 3113.0,424.6 3113.7,424.6 3114.4,424.6 3115.1,424.6 3115.9,424.6 3116.6,424.6 3117.3,424.6 3118.0,424.6 3118.8,424.6 3119.5,424.6 3120.2,424.6 3120.9,424.6 3121.7,424.6 3122.4,424.6 3123.1,424.6 3123.8,424.6 3124.6,424.6 3125.3,424.6 3126.0,424.6 3126.7,424.6 3127.5,424.6 3128.2,424.6 3128.9,424.6 3129.6,424.6 3130.4,424.6 3131.1,424.6 3131.8,424.6 3132.5,424.6 3133.3,424.6 3134.0,424.6 3134.7,424.6 3135.4,424.6 3136.2,424.6 3136.9,424.6 3137.6,424.6 3138.3,424.6 3139.1,424.6 3139.8,424.6 3140.5,424.6 3141.2,424.6 3142.0,424.6 3142.7,424.6 3143.4,424.6 3144.1,424.6 3144.9,424.6 3145.6,424.6 3146.3,424.6 3147.0,424.6 3147.8,424.6 3148.5,424.6 3149.2,424.6 3149.9,424.6 3150.7,424.6 3151.4,424.6 3152.1,424.6 3152.8,424.6 3153.6,424.6 3154.3,424.6 3155.0,424.6 3155.7,424.6 3156.5,424.6 3157.2,424.6 3157.9,424.6 3158.6,424.6 3159.4,424.6 3160.1,424.6 3160.8,424.6 3161.5,424.6 3162.3,424.6 3163.0,424.6 3163.7,424.6 3164.4,424.6 3165.2,424.6 3165.9,424.6 3166.6,424.6 3167.3,424.6" fill="none" stroke="#C44E52" stroke-width="0.9"/><text x="3077.3" y="433.2" font-size="5.6" fill="#333" text-anchor="middle" font-family="Liberation Sans, DejaVu Sans, sans-serif">0.0</text><text x="3113.6" y="433.2" font-size="5.6" fill="#333" text-anchor="middle" font-family="Liberation Sans, DejaVu Sans, sans-serif">0.2</text><text x="3149.8" y="433.2" font-size="5.6" fill="#333" text-anchor="middle" font-family="Liberation Sans, DejaVu Sans, sans-serif">0.4</text><text x="3186.1" y="433.2" font-size="5.6" fill="#333" text-anchor="middle" font-family="Liberation Sans, DejaVu Sans, sans-serif">0.6</text><text x="3222.3" y="433.2" font-size="5.6" fill="#333" text-anchor="middle" font-family="Liberation Sans, DejaVu Sans, sans-serif">0.8</text><text x="3057.4" y="426.6" font-size="5.6" fill="#333" text-anchor="end" font-family="Liberation Sans, DejaVu Sans, sans-serif">0</text><text x="3057.4" y="407.0" font-size="5.6" fill="#333" text-anchor="end" font-family="Liberation Sans, DejaVu Sans, sans-serif">5</text><text x="3057.4" y="387.3" font-size="5.6" fill="#333" text-anchor="end" font-family="Liberation Sans, DejaVu Sans, sans-serif">10</text><text x="3057.4" y="367.7" font-size="5.6" fill="#333" text-anchor="end" font-family="Liberation Sans, DejaVu Sans, sans-serif">15</text><text x="3057.4" y="348.0" font-size="5.6" fill="#333" text-anchor="end" font-family="Liberation Sans, DejaVu Sans, sans-serif">20</text><text x="3057.4" y="328.4" font-size="5.6" fill="#333" text-anchor="end" font-family="Liberation Sans, DejaVu Sans, sans-serif">25</text><text x="3057.4" y="308.7" font-size="5.6" fill="#333" text-anchor="end" font-family="Liberation Sans, DejaVu Sans, sans-serif">30</text><text x="3146.1" y="442.7" font-size="7.2" text-anchor="middle" textLength="137" lengthAdjust="spacingAndGlyphs">Abnormal score with dual autoencoder constraint</text><rect x="3153.2" y="308.8" width="38.5" height="7.2" fill="rgba(76,114,176,0.55)"/><rect x="3153.2" y="321.4" width="38.5" height="7.2" fill="rgba(221,84,90,0.45)"/><text x="3194.5" y="314.6" font-size="5.6" fill="#222" font-family="Liberation Sans, DejaVu Sans, sans-serif">Abnormal</text><text x="3194.5" y="327.2" font-size="5.6" fill="#222" font-family="Liberation Sans, DejaVu Sans, sans-serif">Normal</text></svg>
<svg class="abs" style="left:3255px;top:105px" width="375" height="310" viewBox="3255 105 375 310" font-family="Liberation Sans, DejaVu Sans, sans-serif"><rect x="3288.8" y="112.6" width="331.7" height="135.6" fill="#EAEAF2"/><line x1="3304.0" y1="112.6" x2="3304.0" y2="248.2" stroke="#fff" stroke-width="0.9"/><line x1="3337.5" y1="112.6" x2="3337.5" y2="248.2" stroke="#fff" stroke-width="0.9"/><line x1="3371.0" y1="112.6" x2="3371.0" y2="248.2" stroke="#fff" stroke-width="0.9"/><line x1="3404.5" y1="112.6" x2="3404.5" y2="248.2" stroke="#fff" stroke-width="0.9"/><line x1="3438.0" y1="112.6" x2="3438.0" y2="248.2" stroke="#fff" stroke-width="0.9"/><line x1="3471.4" y1="112.6" x2="3471.4" y2="248.2" stroke="#fff" stroke-width="0.9"/><line x1="3504.9" y1="112.6" x2="3504.9" y2="248.2" stroke="#fff" stroke-width="0.9"/><line x1="3538.4" y1="112.6" x2="3538.4" y2="248.2" stroke="#fff" stroke-width="0.9"/><line x1="3571.9" y1="112.6" x2="3571.9" y2="248.2" stroke="#fff" stroke-width="0.9"/><line x1="3605.4" y1="112.6" x2="3605.4" y2="248.2" stroke="#fff" stroke-width="0.9"/><line x1="3288.8" y1="237.4" x2="3620.5" y2="237.4" stroke="#fff" stroke-width="0.9"/><text x="3284.8" y="239.4" font-size="5.8" fill="#333" text-anchor="end">0.75</text><line x1="3288.8" y1="213.4" x2="3620.5" y2="213.4" stroke="#fff" stroke-width="0.9"/><text x="3284.8" y="215.4" font-size="5.8" fill="#333" text-anchor="end">0.80</text><line x1="3288.8" y1="189.4" x2="3620.5" y2="189.4" stroke="#fff" stroke-width="0.9"/><text x="3284.8" y="191.4" font-size="5.8" fill="#333" text-anchor="end">0.85</text><line x1="3288.8" y1="165.3" x2="3620.5" y2="165.3" stroke="#fff" stroke-width="0.9"/><text x="3284.8" y="167.3" font-size="5.8" fill="#333" text-anchor="end">0.90</text><line x1="3288.8" y1="141.3" x2="3620.5" y2="141.3" stroke="#fff" stroke-width="0.9"/><text x="3284.8" y="143.3" font-size="5.8" fill="#333" text-anchor="end">0.95</text><line x1="3288.8" y1="117.3" x2="3620.5" y2="117.3" stroke="#fff" stroke-width="0.9"/><text x="3284.8" y="119.3" font-size="5.8" fill="#333" text-anchor="end">1.00</text><text x="3304.0" y="257.8" font-size="5.8" fill="#333" text-anchor="middle">0</text><text x="3337.5" y="257.8" font-size="5.8" fill="#333" text-anchor="middle">1</text><text x="3371.0" y="257.8" font-size="5.8" fill="#333" text-anchor="middle">2</text><text x="3404.5" y="257.8" font-size="5.8" fill="#333" text-anchor="middle">3</text><text x="3438.0" y="257.8" font-size="5.8" fill="#333" text-anchor="middle">4</text><text x="3471.4" y="257.8" font-size="5.8" fill="#333" text-anchor="middle">5</text><text x="3504.9" y="257.8" font-size="5.8" fill="#333" text-anchor="middle">6</text><text x="3538.4" y="257.8" font-size="5.8" fill="#333" text-anchor="middle">7</text><text x="3571.9" y="257.8" font-size="5.8" fill="#333" text-anchor="middle">8</text><text x="3605.4" y="257.8" font-size="5.8" fill="#333" text-anchor="middle">9</text><text transform="translate(3269.5,180) rotate(-90)" font-size="7.4" fill="#222" text-anchor="middle">AUC value</text><polyline points="3304.0,124.5 3337.5,118.7 3371.0,200.9 3404.5,174.9 3438.0,142.8 3471.4,225.4 3504.9,134.1 3538.4,150.9 3571.9,170.1 3605.4,150.9" fill="none" stroke="#6BB6E6" stroke-width="0.9" stroke-dasharray="2.6,1.2"/><polyline points="3304.0,129.3 3337.5,122.1 3371.0,218.2 3404.5,182.2 3438.0,174.9 3471.4,244.6 3504.9,177.3 3538.4,158.1 3571.9,213.4 3605.4,174.9" fill="none" stroke="#86DC86" stroke-width="0.9" stroke-dasharray="2.6,1.2"/><polyline points="3304.0,126.9 3337.5,130.3 3371.0,172.5 3404.5,165.3 3438.0,152.4 3471.4,187.0 3504.9,138.9 3538.4,153.3 3571.9,166.8 3605.4,149.5" fill="none" stroke="#F0A060" stroke-width="0.9" stroke-dasharray="2.6,1.2"/><polyline points="3304.0,128.3 3337.5,125.5 3371.0,187.9 3404.5,181.7 3438.0,182.6 3471.4,223.0 3504.9,143.7 3538.4,154.8 3571.9,182.2 3605.4,163.9" fill="none" stroke="#34559A" stroke-width="0.9" stroke-dasharray="2.6,1.2"/><polyline points="3304.0,133.6 3337.5,120.7 3371.0,189.4 3404.5,171.1 3438.0,168.7 3471.4,173.5 3504.9,139.9 3538.4,150.9 3571.9,194.2 3605.4,154.8" fill="none" stroke="#F2CE3A" stroke-width="0.9" stroke-dasharray="2.6,1.2"/><polyline points="3304.0,131.7 3337.5,122.1 3371.0,167.7 3404.5,164.4 3438.0,146.1 3471.4,184.6 3504.9,127.9 3538.4,153.3 3571.9,151.9 3605.4,142.3" fill="none" stroke="#D0A27C" stroke-width="0.9" stroke-dasharray="2.6,1.2"/><polyline points="3304.0,126.9 3337.5,118.7 3371.0,157.2 3404.5,156.7 3438.0,141.3 3471.4,172.1 3504.9,125.5 3538.4,143.2 3571.9,147.1 3605.4,134.1" fill="none" stroke="#35D6DE" stroke-width="0.9" stroke-dasharray="2.6,1.2"/><polyline points="3304.0,117.3 3337.5,117.3 3371.0,128.3 3404.5,122.6 3438.0,119.2 3471.4,118.7 3504.9,119.2 3538.4,121.6 3571.9,139.9 3605.4,123.5" fill="none" stroke="#E2332F" stroke-width="0.9" stroke-dasharray="2.6,1.2"/><circle cx="3304.0" cy="117.3" r="1.8" fill="#fff" stroke="#E2332F" stroke-width="0.7"/><circle cx="3337.5" cy="117.3" r="1.8" fill="#fff" stroke="#E2332F" stroke-width="0.7"/><circle cx="3371.0" cy="128.3" r="1.8" fill="#fff" stroke="#E2332F" stroke-width="0.7"/><circle cx="3404.5" cy="122.6" r="1.8" fill="#fff" stroke="#E2332F" stroke-width="0.7"/><circle cx="3438.0" cy="119.2" r="1.8" fill="#fff" stroke="#E2332F" stroke-width="0.7"/><circle cx="3471.4" cy="118.7" r="1.8" fill="#fff" stroke="#E2332F" stroke-width="0.7"/><circle cx="3504.9" cy="119.2" r="1.8" fill="#fff" stroke="#E2332F" stroke-width="0.7"/><circle cx="3538.4" cy="121.6" r="1.8" fill="#fff" stroke="#E2332F" stroke-width="0.7"/><circle cx="3571.9" cy="139.9" r="1.8" fill="#fff" stroke="#E2332F" stroke-width="0.7"/><circle cx="3605.4" cy="123.5" r="1.8" fill="#fff" stroke="#E2332F" stroke-width="0.7"/><rect x="3528.8" y="182.7" width="88.8" height="63.0" fill="#EAEAF2" fill-opacity="0.85" stroke="#d8d8e0" stroke-width="0.5" rx="1"/><line x1="3531.8" y1="188.4" x2="3542.8" y2="188.4" stroke="#6BB6E6" stroke-width="0.9" stroke-dasharray="2.4,1.2"/><text x="3545.8" y="190.4" font-size="5.4" fill="#222">OC-SVM/SVDD</text><line x1="3531.8" y1="195.8" x2="3542.8" y2="195.8" stroke="#86DC86" stroke-width="0.9" stroke-dasharray="2.4,1.2"/><text x="3545.8" y="197.8" font-size="5.4" fill="#222">KDE</text><line x1="3531.8" y1="203.1" x2="3542.8" y2="203.1" stroke="#F0A060" stroke-width="0.9" stroke-dasharray="2.4,1.2"/><text x="3545.8" y="205.1" font-size="5.4" fill="#222">IF</text><line x1="3531.8" y1="210.5" x2="3542.8" y2="210.5" stroke="#34559A" stroke-width="0.9" stroke-dasharray="2.4,1.2"/><text x="3545.8" y="212.5" font-size="5.4" fill="#222">DCAE</text><line x1="3531.8" y1="217.9" x2="3542.8" y2="217.9" stroke="#F2CE3A" stroke-width="0.9" stroke-dasharray="2.4,1.2"/><text x="3545.8" y="219.9" font-size="5.4" fill="#222">ANOGAN</text><line x1="3531.8" y1="225.3" x2="3542.8" y2="225.3" stroke="#D0A27C" stroke-width="0.9" stroke-dasharray="2.4,1.2"/><text x="3545.8" y="227.3" font-size="5.4" fill="#222">SOFT-BOUND-DEEP-SVDD</text><line x1="3531.8" y1="232.6" x2="3542.8" y2="232.6" stroke="#35D6DE" stroke-width="0.9" stroke-dasharray="2.4,1.2"/><text x="3545.8" y="234.6" font-size="5.4" fill="#222">ONE-CLASS-DEEP-SVDD</text><line x1="3531.8" y1="240.0" x2="3542.8" y2="240.0" stroke="#E2332F" stroke-width="0.9" stroke-dasharray="2.4,1.2"/><circle cx="3537.3" cy="240.0" r="1.8" fill="#fff" stroke="#E2332F" stroke-width="0.7"/><text x="3545.8" y="242.0" font-size="5.4" fill="#222">Proposed method</text><rect x="3286" y="260.8" width="334.5" height="137.4" fill="#EAEAF2"/><line x1="3301.1" y1="260.8" x2="3301.1" y2="398.2" stroke="#fff" stroke-width="0.9"/><line x1="3335.0" y1="260.8" x2="3335.0" y2="398.2" stroke="#fff" stroke-width="0.9"/><line x1="3368.9" y1="260.8" x2="3368.9" y2="398.2" stroke="#fff" stroke-width="0.9"/><line x1="3402.8" y1="260.8" x2="3402.8" y2="398.2" stroke="#fff" stroke-width="0.9"/><line x1="3436.7" y1="260.8" x2="3436.7" y2="398.2" stroke="#fff" stroke-width="0.9"/><line x1="3470.6" y1="260.8" x2="3470.6" y2="398.2" stroke="#fff" stroke-width="0.9"/><line x1="3504.5" y1="260.8" x2="3504.5" y2="398.2" stroke="#fff" stroke-width="0.9"/><line x1="3538.4" y1="260.8" x2="3538.4" y2="398.2" stroke="#fff" stroke-width="0.9"/><line x1="3572.3" y1="260.8" x2="3572.3" y2="398.2" stroke="#fff" stroke-width="0.9"/><line x1="3606.2" y1="260.8" x2="3606.2" y2="398.2" stroke="#fff" stroke-width="0.9"/><line x1="3286" y1="398.6" x2="3620.5" y2="398.6" stroke="#fff" stroke-width="0.9"/><text x="3282.0" y="400.6" font-size="5.8" fill="#333" text-anchor="end">0.4</text><line x1="3286" y1="376.5" x2="3620.5" y2="376.5" stroke="#fff" stroke-width="0.9"/><text x="3282.0" y="378.5" font-size="5.8" fill="#333" text-anchor="end">0.5</text><line x1="3286" y1="354.5" x2="3620.5" y2="354.5" stroke="#fff" stroke-width="0.9"/><text x="3282.0" y="356.5" font-size="5.8" fill="#333" text-anchor="end">0.6</text><line x1="3286" y1="332.4" x2="3620.5" y2="332.4" stroke="#fff" stroke-width="0.9"/><text x="3282.0" y="334.4" font-size="5.8" fill="#333" text-anchor="end">0.7</text><line x1="3286" y1="310.3" x2="3620.5" y2="310.3" stroke="#fff" stroke-width="0.9"/><text x="3282.0" y="312.3" font-size="5.8" fill="#333" text-anchor="end">0.8</text><line x1="3286" y1="288.3" x2="3620.5" y2="288.3" stroke="#fff" stroke-width="0.9"/><text x="3282.0" y="290.3" font-size="5.8" fill="#333" text-anchor="end">0.9</text><line x1="3286" y1="266.2" x2="3620.5" y2="266.2" stroke="#fff" stroke-width="0.9"/><text x="3282.0" y="268.2" font-size="5.8" fill="#333" text-anchor="end">1.0</text><text x="3301.1" y="408.5" font-size="5.8" fill="#333" text-anchor="middle">plane</text><text x="3335.0" y="408.5" font-size="5.8" fill="#333" text-anchor="middle">car</text><text x="3368.9" y="408.5" font-size="5.8" fill="#333" text-anchor="middle">bird</text><text x="3402.8" y="408.5" font-size="5.8" fill="#333" text-anchor="middle">cat</text><text x="3436.7" y="408.5" font-size="5.8" fill="#333" text-anchor="middle">deer</text><text x="3470.6" y="408.5" font-size="5.8" fill="#333" text-anchor="middle">dog</text><text x="3504.5" y="408.5" font-size="5.8" fill="#333" text-anchor="middle">frog</text><text x="3538.4" y="408.5" font-size="5.8" fill="#333" text-anchor="middle">horse</text><text x="3572.3" y="408.5" font-size="5.8" fill="#333" text-anchor="middle">ship</text><text x="3606.2" y="408.5" font-size="5.8" fill="#333" text-anchor="middle">truck</text><text transform="translate(3269.5,330) rotate(-90)" font-size="7.4" fill="#222" text-anchor="middle">AUC value</text><polyline points="3301.1,351.2 3335.0,343.4 3368.9,374.3 3402.8,356.7 3436.7,352.3 3470.6,343.4 3504.5,336.8 3538.4,339.0 3572.3,321.4 3606.2,325.8" fill="none" stroke="#6BB6E6" stroke-width="0.9" stroke-dasharray="2.6,1.2"/><polyline points="3301.1,351.8 3335.0,345.7 3368.9,376.5 3402.8,361.1 3436.7,341.2 3470.6,350.1 3504.5,321.4 3538.4,349.0 3572.3,321.4 3606.2,319.2" fill="none" stroke="#86DC86" stroke-width="0.9" stroke-dasharray="2.6,1.2"/><polyline points="3301.1,354.5 3335.0,374.8 3368.9,378.8 3402.8,366.0 3436.7,377.2 3470.6,357.8 3504.5,392.0 3538.4,365.5 3572.3,323.6 3606.2,356.7" fill="none" stroke="#F0A060" stroke-width="0.9" stroke-dasharray="2.6,1.2"/><polyline points="3301.1,356.2 3335.0,360.4 3368.9,379.2 3402.8,358.5 3436.7,368.2 3470.6,349.6 3504.5,374.3 3538.4,357.1 3572.3,317.4 3606.2,337.9" fill="none" stroke="#6C5FD6" stroke-width="0.9" stroke-dasharray="2.6,1.2"/><polyline points="3301.1,339.0 3335.0,366.0 3368.9,371.0 3402.8,366.0 3436.7,342.8 3470.6,354.5 3504.5,357.8 3538.4,349.0 3572.3,319.2 3606.2,339.0" fill="none" stroke="#F2CE3A" stroke-width="0.9" stroke-dasharray="2.6,1.2"/><polyline points="3301.1,351.2 3335.0,345.7 3368.9,377.7 3402.8,363.3 3436.7,356.7 3470.6,349.0 3504.5,336.8 3538.4,343.4 3572.3,320.3 3606.2,331.3" fill="none" stroke="#D0A27C" stroke-width="0.9" stroke-dasharray="2.6,1.2"/><polyline points="3301.1,350.5 3335.0,341.2 3368.9,375.4 3402.8,356.2 3436.7,353.4 3470.6,345.7 3504.5,337.3 3538.4,339.5 3572.3,321.4 3606.2,325.8" fill="none" stroke="#35D6DE" stroke-width="0.9" stroke-dasharray="2.6,1.2"/><polyline points="3301.1,319.2 3335.0,276.1 3368.9,314.8 3402.8,326.9 3436.7,292.7 3470.6,292.7 3504.5,302.6 3538.4,276.1 3572.3,280.5 3606.2,285.0" fill="none" stroke="#3D63A6" stroke-width="0.9" stroke-dasharray="2.6,1.2"/><polyline points="3301.1,268.4 3335.0,268.4 3368.9,269.5 3402.8,292.7 3436.7,283.9 3470.6,283.9 3504.5,273.3 3538.4,289.4 3572.3,278.3 3606.2,266.6" fill="none" stroke="#E2332F" stroke-width="0.9" stroke-dasharray="2.6,1.2"/><circle cx="3301.1" cy="268.4" r="1.8" fill="#fff" stroke="#E2332F" stroke-width="0.7"/><circle cx="3335.0" cy="268.4" r="1.8" fill="#fff" stroke="#E2332F" stroke-width="0.7"/><circle cx="3368.9" cy="269.5" r="1.8" fill="#fff" stroke="#E2332F" stroke-width="0.7"/><circle cx="3402.8" cy="292.7" r="1.8" fill="#fff" stroke="#E2332F" stroke-width="0.7"/><circle cx="3436.7" cy="283.9" r="1.8" fill="#fff" stroke="#E2332F" stroke-width="0.7"/><circle cx="3470.6" cy="283.9" r="1.8" fill="#fff" stroke="#E2332F" stroke-width="0.7"/><circle cx="3504.5" cy="273.3" r="1.8" fill="#fff" stroke="#E2332F" stroke-width="0.7"/><circle cx="3538.4" cy="289.4" r="1.8" fill="#fff" stroke="#E2332F" stroke-width="0.7"/><circle cx="3572.3" cy="278.3" r="1.8" fill="#fff" stroke="#E2332F" stroke-width="0.7"/><circle cx="3606.2" cy="266.6" r="1.8" fill="#fff" stroke="#E2332F" stroke-width="0.7"/><rect x="3287.8" y="263.3" width="91.0" height="70.2" fill="#EAEAF2" fill-opacity="0.85" stroke="#d8d8e0" stroke-width="0.5" rx="1"/><line x1="3290.8" y1="269.0" x2="3301.8" y2="269.0" stroke="#6BB6E6" stroke-width="0.9" stroke-dasharray="2.4,1.2"/><text x="3304.8" y="271.0" font-size="5.4" fill="#222">OC-SVM/SVDD</text><line x1="3290.8" y1="276.3" x2="3301.8" y2="276.3" stroke="#86DC86" stroke-width="0.9" stroke-dasharray="2.4,1.2"/><text x="3304.8" y="278.3" font-size="5.4" fill="#222">KDE</text><line x1="3290.8" y1="283.7" x2="3301.8" y2="283.7" stroke="#F0A060" stroke-width="0.9" stroke-dasharray="2.4,1.2"/><text x="3304.8" y="285.7" font-size="5.4" fill="#222">IF</text><line x1="3290.8" y1="291.0" x2="3301.8" y2="291.0" stroke="#6C5FD6" stroke-width="0.9" stroke-dasharray="2.4,1.2"/><text x="3304.8" y="293.0" font-size="5.4" fill="#222">DCAE</text><line x1="3290.8" y1="298.4" x2="3301.8" y2="298.4" stroke="#F2CE3A" stroke-width="0.9" stroke-dasharray="2.4,1.2"/><text x="3304.8" y="300.4" font-size="5.4" fill="#222">ANOGAN</text><line x1="3290.8" y1="305.8" x2="3301.8" y2="305.8" stroke="#D0A27C" stroke-width="0.9" stroke-dasharray="2.4,1.2"/><text x="3304.8" y="307.8" font-size="5.4" fill="#222">SOFT-BOUND-DEEP-SVDD</text><line x1="3290.8" y1="313.1" x2="3301.8" y2="313.1" stroke="#35D6DE" stroke-width="0.9" stroke-dasharray="2.4,1.2"/><text x="3304.8" y="315.1" font-size="5.4" fill="#222">ONE-CLASS-DEEP-SVDD</text><line x1="3290.8" y1="320.5" x2="3301.8" y2="320.5" stroke="#3D63A6" stroke-width="0.9" stroke-dasharray="2.4,1.2"/><text x="3304.8" y="322.5" font-size="5.4" fill="#222">DADGT</text><line x1="3290.8" y1="327.8" x2="3301.8" y2="327.8" stroke="#E2332F" stroke-width="0.9" stroke-dasharray="2.4,1.2"/><circle cx="3296.3" cy="327.8" r="1.8" fill="#fff" stroke="#E2332F" stroke-width="0.7"/><text x="3304.8" y="329.8" font-size="5.4" fill="#222">Proposed method</text></svg>
<svg class="abs" style="left:2860px;top:150px" width="380" height="120" viewBox="2860 150 380 120" font-family="Liberation Serif, serif" font-size="10.8"><line x1="2871" y1="157.2" x2="3224.6" y2="157.2" stroke="#333" stroke-width="0.9"/><line x1="2871" y1="170.2" x2="3224.6" y2="170.2" stroke="#333" stroke-width="0.9"/><line x1="2871" y1="183.1" x2="3224.6" y2="183.1" stroke="#333" stroke-width="0.9"/><line x1="2871" y1="207.4" x2="3224.6" y2="207.4" stroke="#333" stroke-width="0.9"/><line x1="2871" y1="220.6" x2="3224.6" y2="220.6" stroke="#333" stroke-width="0.9"/><line x1="2871" y1="233" x2="3224.6" y2="233" stroke="#333" stroke-width="0.9"/><line x1="2871" y1="245.7" x2="3224.6" y2="245.7" stroke="#333" stroke-width="0.9"/><line x1="2871" y1="257.9" x2="3224.6" y2="257.9" stroke="#333" stroke-width="0.9"/><line x1="2871" y1="157.2" x2="2871" y2="257.9" stroke="#333" stroke-width="0.9"/><line x1="3224.6" y1="157.2" x2="3224.6" y2="257.9" stroke="#333" stroke-width="0.9"/><line x1="3026.2" y1="157.2" x2="3026.2" y2="257.9" stroke="#333" stroke-width="0.9"/><line x1="3062.4" y1="183.1" x2="3062.4" y2="257.9" stroke="#333" stroke-width="0.9"/><line x1="3099.7" y1="170.2" x2="3099.7" y2="257.9" stroke="#333" stroke-width="0.9"/><line x1="3136.1" y1="183.1" x2="3136.1" y2="257.9" stroke="#333" stroke-width="0.9"/><line x1="3172" y1="170.2" x2="3172" y2="257.9" stroke="#333" stroke-width="0.9"/><text x="3125.4" y="167" text-anchor="middle">dataset</text><text x="3063" y="180" text-anchor="middle">Mnist</text><text x="3135.9" y="180" text-anchor="middle">Cifar10</text><text x="3198.3" y="180" text-anchor="middle">GTSRB</text><text x="2880.2" y="198.8">Loss composition</text><text x="3044.3" y="198.8" text-anchor="middle">5</text><text x="3081" y="198.8" text-anchor="middle">3</text><text x="3117.9" y="198.8" text-anchor="middle">frog</text><text x="3154" y="198.8" text-anchor="middle">bird</text><text x="3198.3" y="192.3" text-anchor="middle">stop</text><text x="3198.3" y="204.3" text-anchor="middle">signs</text><text x="2880.5" y="216.8" font-size="11" textLength="58.5" lengthAdjust="spacing"><tspan font-family="DejaVu Sans, sans-serif" font-size="10.5">&#8466;</tspan><tspan font-size="8" dy="2.4" font-style="italic">irec</tspan><tspan dy="-2.4">+</tspan><tspan font-family="DejaVu Sans, sans-serif" font-size="10.5">&#8466;</tspan><tspan font-size="8" dy="2.4" font-style="italic">adv</tspan></text><text x="3044.3" y="216.8" text-anchor="middle">0.59</text><text x="3081" y="216.8" text-anchor="middle">0.63</text><text x="3117.9" y="216.8" text-anchor="middle">0.54</text><text x="3154" y="216.8" text-anchor="middle">0.60</text><text x="3198.3" y="216.8" text-anchor="middle">0.49</text><text x="2880.5" y="229.6" font-size="11" textLength="95" lengthAdjust="spacing"><tspan font-family="DejaVu Sans, sans-serif" font-size="10.5">&#8466;</tspan><tspan font-size="8" dy="2.4" font-style="italic">irec</tspan><tspan dy="-2.4">+</tspan><tspan font-family="DejaVu Sans, sans-serif" font-size="10.5">&#8466;</tspan><tspan font-size="8" dy="2.4" font-style="italic">adv</tspan><tspan dy="-2.4">+</tspan><tspan font-family="DejaVu Sans, sans-serif" font-size="10.5">&#8466;</tspan><tspan font-size="8" dy="2.4" font-style="italic">zrec</tspan></text><text x="3044.3" y="229.6" text-anchor="middle">0.63</text><text x="3081" y="229.6" text-anchor="middle">0.68</text><text x="3117.9" y="229.6" text-anchor="middle">0.58</text><text x="3154" y="229.6" text-anchor="middle">0.61</text><text x="3198.3" y="229.6" text-anchor="middle">0.50</text><text x="2880.5" y="242" font-size="11" textLength="115.2" lengthAdjust="spacing"><tspan font-family="DejaVu Sans, sans-serif" font-size="10.5">&#8466;</tspan><tspan font-size="8" dy="2.4" font-style="italic">irec</tspan><tspan dy="-2.4">+</tspan><tspan font-family="DejaVu Sans, sans-serif" font-size="10.5">&#8466;</tspan><tspan font-size="8" dy="2.4" font-style="italic">adv</tspan><tspan dy="-2.4">+</tspan><tspan font-family="DejaVu Sans, sans-serif" font-size="10.5">&#8466;</tspan><tspan font-size="8" dy="2.4" font-style="italic">zrec</tspan><tspan dy="-2.4">+</tspan><tspan font-family="DejaVu Sans, sans-serif" font-size="10.5">&#8466;</tspan><tspan font-size="8" dy="2.4" font-style="italic">c</tspan></text><text x="3044.3" y="242" text-anchor="middle">0.65</text><text x="3081" y="242" text-anchor="middle">0.70</text><text x="3117.9" y="242" text-anchor="middle">0.60</text><text x="3154" y="242" text-anchor="middle">0.63</text><text x="3198.3" y="242" text-anchor="middle">0.55</text><text x="2880.5" y="254.6" font-size="11" textLength="135.5" lengthAdjust="spacing"><tspan font-family="DejaVu Sans, sans-serif" font-size="10.5">&#8466;</tspan><tspan font-size="8" dy="2.4" font-style="italic">irec</tspan><tspan dy="-2.4">+</tspan><tspan font-family="DejaVu Sans, sans-serif" font-size="10.5">&#8466;</tspan><tspan font-size="8" dy="2.4" font-style="italic">adv</tspan><tspan dy="-2.4">+</tspan><tspan font-family="DejaVu Sans, sans-serif" font-size="10.5">&#8466;</tspan><tspan font-size="8" dy="2.4" font-style="italic">zrec</tspan><tspan dy="-2.4">+</tspan><tspan font-family="DejaVu Sans, sans-serif" font-size="10.5">&#8466;</tspan><tspan font-size="8" dy="2.4" font-style="italic">c</tspan><tspan dy="-2.4">+</tspan><tspan font-family="DejaVu Sans, sans-serif" font-size="10.5">&#8466;</tspan><tspan font-size="8" dy="2.4" font-style="italic">d</tspan></text><text x="3044.3" y="254.6" text-anchor="middle">0.99</text><text x="3081" y="254.6" text-anchor="middle">0.99</text><text x="3117.9" y="254.6" text-anchor="middle">0.97</text><text x="3154" y="254.6" text-anchor="middle">0.98</text><text x="3198.3" y="254.6" text-anchor="middle">0.96</text></svg><svg class="abs" style="left:2940px;top:965px" width="215" height="130" viewBox="2940 965 215 130" font-family="Liberation Serif, serif" font-size="10.6"><line x1="2944.2" y1="970.4" x2="3151.4" y2="970.4" stroke="#222" stroke-width="1"/><line x1="2944.2" y1="983" x2="3151.4" y2="983" stroke="#222" stroke-width="0.7"/><line x1="2944.2" y1="1092" x2="3151.4" y2="1092" stroke="#222" stroke-width="1"/><text x="2953.6" y="978.9" font-weight="bold">Methods</text><text x="3100" y="978.9" font-weight="bold">Accuracy</text><text x="2953.6" y="991.2">OC-SVM/SVDD</text><text x="3100" y="991.2">67.5&#177;1.2</text><text x="2953.6" y="1003.1">KDE</text><text x="3100" y="1003.1">60.5&#177;1.7</text><text x="2953.6" y="1015.1">IF</text><text x="3100" y="1015.1">73.8&#177;0.9</text><text x="2953.6" y="1027.1">DCAE</text><text x="3100" y="1027.1">79.1&#177;3.0</text><text x="2953.6" y="1039">ANOGAN</text><text x="3100" y="1039">&#8211;</text><text x="2953.6" y="1051">SOFT-BOUND. DEEP SVDD</text><text x="3100" y="1051">77.8&#177;4.9</text><text x="2953.6" y="1063">ONE-CLASS DEEP SVDD</text><text x="3100" y="1063">80.3&#177;2.8</text><text x="2953.6" y="1075">RCAE</text><text x="3100" y="1075">87.4&#177;2.7</text><text x="2953.6" y="1087.2" font-weight="bold">Ours</text><text x="3100" y="1087.2" font-weight="bold">96.9&#177;1.0</text></svg>
</body></html>
